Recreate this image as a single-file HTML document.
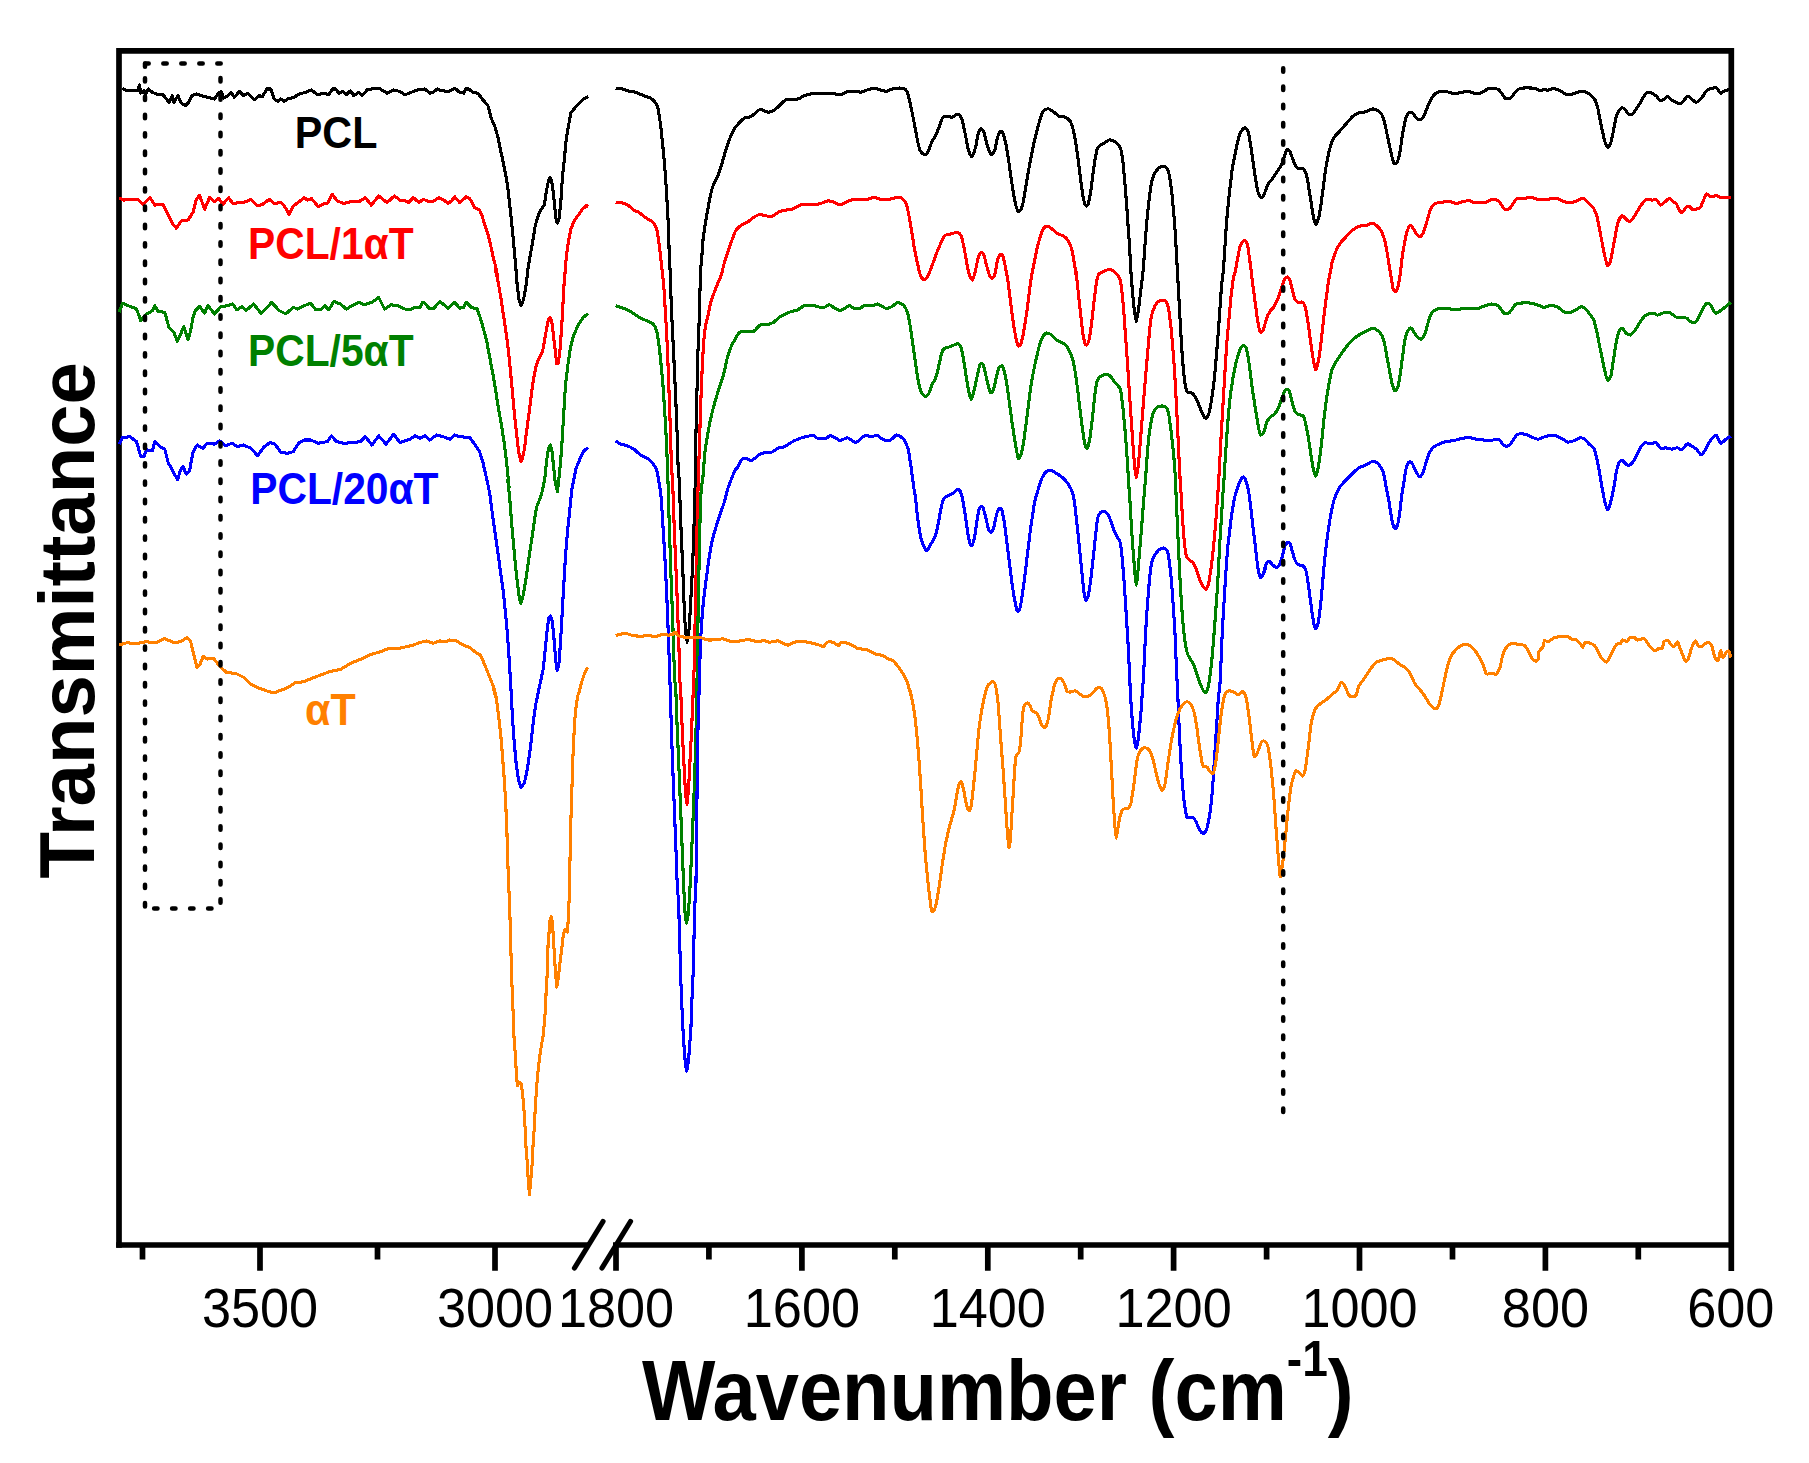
<!DOCTYPE html>
<html><head><meta charset="utf-8"><title>FTIR spectra</title>
<style>html,body{margin:0;padding:0;background:#fff}svg{display:block}</style>
</head><body>
<svg width="1809" height="1463" viewBox="0 0 1809 1463">
<rect width="1809" height="1463" fill="#fff"/>
<g stroke="#000" stroke-width="5.7" fill="none" stroke-linecap="butt">
<path d="M119,1247.85 L119,50.9 L1731.3,50.9 L1731.3,1271" stroke-linejoin="miter"/>
<path d="M116.15,1245 L588.5,1245 M613,1245 L1731.3,1245"/>
<path d="M260.0,1245 V1270.7 M495.0,1245 V1270.7 M142.5,1245 V1259.6 M377.5,1245 V1259.6 M616.0,1245 V1270.7 M801.9,1245 V1270.7 M987.8,1245 V1270.7 M1173.6,1245 V1270.7 M1359.5,1245 V1270.7 M1545.4,1245 V1270.7 M708.9,1245 V1259.6 M894.8,1245 V1259.6 M1080.7,1245 V1259.6 M1266.6,1245 V1259.6 M1452.5,1245 V1259.6 M1638.3,1245 V1259.6"/>
<path d="M574.5,1268 L603,1221.5 M602,1268 L630.5,1221.5" stroke-width="5.2" stroke-linecap="round"/>
</g>
<g fill="none" stroke-width="3.1" stroke-linejoin="round" stroke-linecap="butt" shape-rendering="crispEdges">
<path stroke="#000000" d="M122.5,88.2 L126.6,90.7 L137.4,90.7 L139.5,84.9 L140.7,93.2 L144.0,90.7 L145.7,94.8 L148.2,89.0 L152.3,92.3 L156.5,94.0 L163.1,94.8 L168.9,102.3 L172.2,95.7 L173.9,102.3 L178.0,95.7 L181.3,103.1 L185.5,105.6 L188.8,102.3 L192.1,95.7 L196.3,94.0 L201.2,95.7 L207.9,97.3 L214.5,99.0 L218.6,93.2 L221.1,91.5 L223.6,98.1 L227.8,95.7 L231.1,92.3 L234.4,97.3 L239.4,91.5 L243.5,95.7 L247.7,93.2 L254.3,99.8 L259.3,95.7 L262.6,96.5 L266.7,89.0 L270.9,89.0 L274.2,99.0 L278.3,101.5 L280.8,99.0 L284.2,101.5 L287.5,99.0 L294.1,97.3 L299.1,94.0 L305.7,92.3 L311.5,89.9 L317.3,94.8 L324.0,93.2 L328.9,94.8 L332.2,89.0 L335.6,89.0 L338.9,93.2 L343.0,91.5 L346.3,94.8 L350.5,90.7 L353.8,95.7 L358.8,92.3 L362.1,95.7 L367.1,89.9 L373.7,88.5 L380.3,89.0 L387.0,93.2 L393.6,89.9 L400.1,91.5 L405.0,94.8 L413.3,91.5 L418.2,89.9 L424.9,89.0 L429.9,93.2 L433.2,92.3 L437.3,89.0 L441.5,90.7 L448.9,91.5 L454.7,88.2 L459.7,92.3 L463.8,93.2 L465.5,89.0 L468.8,89.0 L473.0,92.3 L477.9,93.2 L482.9,99.8 L487.9,105.6 L491.2,118.0 L495.4,128.0 L498.5,139.6 L501.5,154.5 L504.0,166.1 L506.0,176.1 L507.8,187.7 L509.5,202.6 L511.1,217.5 L512.8,234.1 L514.3,250.7 L515.8,267.3 L517.3,286.6 L519.1,299.9 L521.1,305.7 L523.5,299.9 L525.9,286.6 L528.2,267.3 L530.5,254.0 L532.8,240.8 L535.2,225.8 L537.6,217.5 L540.1,210.9 L544.3,205.1 L546.4,191.0 L548.4,181.1 L550.1,177.7 L551.7,181.1 L553.4,192.7 L555.0,209.3 L556.3,220.9 L557.5,223.3 L559.2,217.5 L560.9,201.0 L562.5,176.1 L564.3,159.5 L566.2,139.6 L568.4,126.3 L570.8,113.1 L573.3,109.8 L577.4,104.8 L582.4,99.8 L588.2,96.5"/>
<path stroke="#000000" d="M615.6,88.5C616.4,88.6 620.5,88.7 622.2,89.0C623.9,89.3 627.2,90.8 628.9,91.2C630.6,91.6 633.6,91.7 635.5,92.3C637.4,92.9 641.9,95.0 643.8,95.7C645.7,96.4 649.0,97.4 650.4,98.1C651.8,98.8 653.7,100.2 654.6,101.5C655.5,102.8 657.2,105.4 657.9,108.1C658.6,110.8 659.7,118.7 660.3,123.0C660.9,127.3 662.0,137.9 662.5,142.9C663.0,147.9 664.0,157.4 664.4,162.8C664.9,168.2 665.7,180.2 666.1,186.0C666.5,191.8 667.2,203.3 667.5,209.3C667.9,215.3 668.4,227.9 668.6,234.1C668.9,240.3 669.2,254.5 669.3,259.0C669.5,263.5 669.8,264.5 670.1,270.0C670.3,275.5 670.9,294.9 671.2,303.2C671.5,311.5 672.4,328.0 672.8,336.3C673.2,344.6 674.0,361.2 674.4,369.5C674.8,377.8 675.5,394.4 675.9,402.7C676.2,411.0 676.9,427.5 677.2,435.8C677.4,444.1 678.0,463.5 678.2,469.0C678.5,474.5 678.9,474.5 679.2,480.0C679.5,485.5 680.1,504.9 680.4,513.2C680.7,521.5 681.4,538.0 681.8,546.3C682.1,554.6 682.8,571.2 683.2,579.5C683.5,587.8 684.1,606.1 684.5,612.7C684.8,619.3 685.4,628.9 685.8,632.6C686.1,636.3 686.8,642.5 687.2,642.5C687.6,642.5 688.3,636.3 688.7,632.6C689.1,628.9 689.8,618.3 690.1,612.7C690.5,607.1 691.1,594.0 691.4,587.8C691.8,581.6 692.4,570.1 692.7,562.9C693.0,555.6 693.6,538.1 693.9,529.8C694.1,521.5 694.7,508.4 694.9,496.6C695.2,484.9 695.7,448.6 695.9,435.8C696.2,423.0 696.7,404.8 696.9,394.4C697.2,384.0 697.7,361.2 697.9,352.9C698.2,344.6 698.7,334.2 698.9,328.0C699.1,321.8 699.5,310.4 699.7,303.2C699.9,295.9 700.3,275.1 700.5,270.0C700.7,264.9 701.1,266.2 701.5,262.3C701.8,258.4 702.6,244.1 703.1,239.1C703.6,234.1 704.8,226.8 705.5,222.5C706.2,218.2 707.9,208.7 708.7,204.3C709.6,200.0 711.1,191.6 712.4,187.7C713.7,183.8 717.5,176.7 719.0,172.8C720.5,168.9 722.9,159.9 724.0,156.2C725.1,152.5 727.2,145.6 728.1,142.9C729.0,140.2 730.6,136.5 731.4,134.6C732.2,132.7 733.6,129.7 734.8,128.0C735.9,126.3 739.4,122.7 740.6,121.4C741.8,120.2 743.4,118.6 744.7,118.0C746.0,117.4 749.6,117.3 751.3,116.4C753.0,115.5 756.8,111.5 758.0,110.6C759.2,109.7 760.1,109.2 761.3,109.4C762.5,109.6 766.3,112.1 767.9,112.2C769.5,112.3 772.2,111.4 773.7,110.6C775.2,109.8 777.9,106.9 779.5,105.6C781.1,104.2 783.9,100.6 786.2,99.8C788.5,99.0 795.5,99.5 797.8,99.0C800.1,98.5 802.5,96.4 804.4,95.7C806.3,95.0 809.2,94.0 812.7,93.7C816.2,93.5 829.1,93.6 832.6,93.7C836.1,93.8 839.0,94.8 840.9,94.5C842.8,94.2 845.4,91.9 847.5,91.5C849.6,91.1 855.8,91.4 857.5,91.5C859.2,91.6 859.6,92.5 860.8,92.3C862.0,92.1 865.6,90.4 867.4,89.9C869.2,89.4 873.0,88.1 874.9,88.2C876.8,88.3 880.8,90.4 882.3,90.7C883.8,91.0 885.8,91.3 887.3,91.0C888.8,90.7 891.9,88.8 894.0,88.5C896.1,88.2 902.2,88.0 903.9,88.5C905.5,89.0 906.4,90.5 907.2,92.3C908.0,94.1 909.4,100.1 910.1,103.1C910.9,106.1 912.2,113.1 912.9,116.4C913.6,119.7 914.8,126.4 915.5,129.7C916.1,133.0 917.4,140.2 918.0,142.9C918.6,145.6 919.7,149.7 920.5,151.2C921.3,152.7 923.7,154.8 924.6,154.9C925.5,155.0 927.1,153.7 928.0,152.0C928.9,150.3 931.1,143.5 932.1,141.3C933.1,139.1 935.3,136.6 936.2,134.6C937.1,132.6 938.8,127.7 939.6,125.5C940.4,123.3 942.0,118.4 942.9,117.2C943.8,116.0 945.9,116.1 947.0,116.1C948.1,116.1 950.8,117.4 952.0,117.2C953.2,117.0 955.9,114.4 957.0,114.4C958.1,114.4 960.3,115.7 961.1,117.2C961.9,118.7 963.0,123.7 963.6,126.3C964.2,128.9 965.4,135.0 966.0,137.9C966.6,140.8 967.6,147.2 968.3,149.6C969.0,152.0 971.0,157.4 972.0,157.0C972.9,156.6 975.0,149.2 975.8,146.2C976.6,143.2 977.6,135.2 978.3,133.0C979.0,130.8 980.6,128.8 981.3,128.8C982.0,128.8 983.4,131.2 984.1,133.0C984.8,134.8 985.9,140.5 986.6,142.9C987.3,145.3 988.9,150.6 989.6,152.0C990.3,153.4 991.4,154.8 992.1,154.5C992.8,154.2 994.2,151.7 994.9,149.6C995.6,147.5 996.8,140.1 997.4,137.9C998.0,135.7 999.3,132.8 999.9,132.1C1000.5,131.4 1001.6,130.9 1002.3,132.1C1003.0,133.2 1004.5,138.3 1005.3,141.3C1006.0,144.3 1007.4,152.1 1008.0,156.2C1008.7,160.3 1010.0,170.1 1010.6,174.4C1011.2,178.8 1012.5,187.3 1013.1,191.0C1013.7,194.7 1015.0,201.8 1015.6,204.3C1016.2,206.8 1017.5,210.5 1018.1,211.2C1018.7,211.9 1020.0,211.2 1020.6,210.1C1021.2,209.0 1022.5,205.4 1023.1,202.6C1023.7,199.8 1024.9,191.4 1025.6,187.7C1026.2,184.0 1027.5,176.5 1028.1,172.8C1028.8,169.1 1030.2,161.5 1030.9,157.8C1031.6,154.1 1033.2,146.4 1033.9,142.9C1034.7,139.4 1036.4,132.8 1037.2,129.7C1038.0,126.6 1039.7,120.4 1040.5,118.0C1041.3,115.6 1042.8,111.7 1043.8,110.6C1044.8,109.5 1047.7,108.8 1048.8,108.9C1049.9,109.0 1051.6,110.5 1052.9,111.4C1054.2,112.3 1058.0,115.7 1059.6,116.4C1061.2,117.1 1064.1,116.6 1065.4,117.2C1066.7,117.8 1069.3,119.8 1070.3,121.4C1071.3,123.0 1072.5,126.8 1073.2,129.7C1074.0,132.6 1075.3,140.5 1076.0,144.6C1076.7,148.7 1078.0,158.0 1078.6,162.8C1079.2,167.6 1080.5,178.1 1081.1,182.7C1081.7,187.3 1083.0,196.4 1083.6,199.3C1084.2,202.2 1085.5,205.5 1086.1,205.9C1086.7,206.3 1088.0,204.7 1088.6,202.6C1089.2,200.5 1090.4,193.3 1091.0,189.4C1091.6,185.5 1092.8,175.2 1093.4,171.1C1093.9,166.9 1095.0,159.1 1095.6,156.2C1096.1,153.3 1097.1,149.2 1097.7,147.9C1098.3,146.6 1099.4,146.0 1100.2,145.4C1101.0,144.8 1103.2,143.6 1104.3,142.9C1105.4,142.2 1108.0,140.1 1109.3,139.9C1110.5,139.7 1113.2,140.7 1114.3,141.3C1115.4,141.9 1117.6,143.6 1118.4,144.6C1119.2,145.6 1120.3,147.3 1120.9,149.6C1121.5,151.9 1122.5,158.5 1123.0,162.8C1123.5,167.2 1124.5,179.0 1125.0,184.4C1125.4,189.8 1126.3,200.5 1126.7,205.9C1127.1,211.3 1127.9,222.3 1128.2,227.5C1128.6,232.7 1129.3,242.1 1129.6,247.4C1129.9,252.8 1130.5,265.0 1130.8,270.3C1131.2,275.6 1131.9,285.2 1132.3,289.9C1132.7,294.6 1133.6,304.1 1134.1,308.1C1134.6,312.1 1135.7,321.7 1136.3,321.7C1136.9,321.7 1138.0,312.1 1138.6,308.1C1139.2,304.1 1140.3,294.8 1140.9,289.9C1141.5,285.0 1142.7,275.6 1143.3,268.6C1143.9,261.7 1145.1,241.9 1145.8,234.1C1146.4,226.3 1147.7,212.1 1148.4,205.9C1149.1,199.7 1150.4,188.3 1151.2,184.4C1151.9,180.5 1153.2,176.4 1154.1,174.4C1155.0,172.4 1157.2,169.6 1158.2,168.6C1159.2,167.6 1161.4,166.2 1162.4,166.1C1163.4,166.0 1165.7,166.8 1166.5,167.8C1167.3,168.8 1168.5,171.7 1169.1,174.4C1169.7,177.1 1170.9,185.0 1171.4,189.4C1172.0,193.8 1172.9,204.3 1173.4,209.3C1173.8,214.3 1174.6,224.0 1175.0,229.2C1175.4,234.4 1176.0,245.3 1176.3,250.7C1176.6,256.1 1177.2,267.2 1177.4,272.3C1177.7,277.4 1178.3,286.1 1178.6,291.6C1178.9,297.1 1179.5,309.8 1179.9,316.4C1180.3,323.0 1181.1,338.0 1181.5,344.6C1181.9,351.2 1182.9,364.3 1183.4,369.5C1183.8,374.7 1184.9,383.2 1185.4,386.1C1185.9,389.0 1186.9,391.6 1187.6,392.4C1188.3,393.2 1190.5,392.2 1191.4,392.7C1192.3,393.1 1193.9,394.8 1194.7,396.0C1195.5,397.2 1197.2,400.8 1198.0,402.7C1198.8,404.6 1200.5,409.1 1201.3,411.0C1202.1,412.9 1204.0,416.8 1204.7,417.6C1205.4,418.4 1206.5,418.4 1207.1,417.6C1207.7,416.8 1209.0,413.7 1209.6,411.0C1210.2,408.3 1211.5,400.1 1212.1,396.0C1212.7,391.9 1213.9,383.2 1214.4,377.8C1215.0,372.4 1216.1,359.1 1216.6,352.9C1217.1,346.7 1218.1,334.2 1218.6,328.0C1219.0,321.8 1219.9,308.8 1220.3,303.2C1220.7,297.6 1221.4,287.2 1221.8,283.3C1222.2,279.4 1222.8,276.4 1223.2,272.3C1223.6,268.2 1224.3,256.5 1224.7,250.7C1225.1,244.9 1225.9,231.4 1226.3,225.8C1226.7,220.2 1227.6,210.7 1228.1,205.9C1228.5,201.1 1229.5,192.2 1230.0,187.7C1230.6,183.1 1231.6,173.4 1232.2,169.5C1232.8,165.6 1234.0,159.5 1234.7,156.2C1235.3,152.9 1236.7,145.8 1237.4,142.9C1238.1,140.0 1239.4,134.9 1240.3,133.0C1241.2,131.1 1243.6,128.3 1244.5,128.0C1245.4,127.7 1247.1,128.6 1247.8,130.5C1248.5,132.4 1249.7,139.3 1250.3,142.9C1250.9,146.5 1252.1,155.3 1252.8,159.5C1253.4,163.7 1254.5,172.4 1255.1,176.1C1255.7,179.8 1256.8,187.0 1257.3,189.4C1257.8,191.8 1258.7,194.1 1259.2,195.2C1259.8,196.2 1261.0,197.7 1261.6,197.6C1262.2,197.5 1263.5,195.5 1264.1,194.3C1264.7,193.1 1266.0,189.1 1266.6,187.7C1267.2,186.2 1268.3,183.9 1269.1,182.7C1269.9,181.4 1272.2,179.1 1273.2,177.7C1274.2,176.2 1276.4,172.8 1277.4,171.1C1278.4,169.4 1280.6,166.6 1281.5,164.5C1282.4,162.4 1284.2,156.4 1284.9,154.5C1285.6,152.6 1286.7,150.0 1287.3,149.6C1287.9,149.2 1289.2,150.2 1289.8,151.2C1290.4,152.2 1291.7,156.1 1292.3,157.8C1292.9,159.5 1294.1,163.2 1294.8,164.5C1295.5,165.8 1297.1,168.1 1298.1,168.6C1299.1,169.1 1302.1,167.9 1303.1,168.6C1304.1,169.3 1305.7,172.2 1306.4,174.4C1307.1,176.6 1308.0,182.9 1308.5,186.0C1309.0,189.1 1310.1,195.8 1310.7,199.3C1311.2,202.8 1312.4,211.1 1313.0,214.2C1313.6,217.3 1314.8,223.8 1315.5,224.2C1316.2,224.6 1318.1,220.0 1318.8,217.5C1319.5,215.0 1320.4,208.0 1321.0,204.3C1321.5,200.6 1322.6,192.0 1323.2,187.7C1323.8,183.3 1325.0,173.4 1325.6,169.5C1326.2,165.6 1327.4,159.1 1328.0,156.2C1328.6,153.3 1329.8,148.5 1330.5,146.2C1331.2,143.9 1332.7,139.8 1333.8,137.9C1334.9,136.0 1338.0,133.1 1339.6,131.3C1341.1,129.5 1344.5,125.7 1346.2,123.8C1347.9,121.9 1351.1,117.8 1352.8,116.4C1354.5,115.0 1357.8,113.3 1359.5,112.7C1361.2,112.1 1364.4,112.2 1366.1,111.7C1367.8,111.2 1371.2,109.0 1372.7,108.9C1374.2,108.8 1376.5,109.9 1377.7,110.6C1378.9,111.3 1381.1,113.3 1381.9,114.7C1382.7,116.1 1383.8,119.1 1384.4,121.4C1385.0,123.7 1386.2,130.1 1386.8,133.0C1387.5,135.9 1388.7,141.7 1389.3,144.6C1389.9,147.5 1391.2,153.8 1391.8,156.2C1392.4,158.6 1393.6,163.0 1394.3,163.6C1395.0,164.2 1396.9,162.8 1397.6,161.2C1398.3,159.6 1399.5,154.5 1400.1,151.2C1400.7,147.9 1401.9,138.1 1402.5,134.6C1403.1,131.1 1404.2,125.4 1404.7,123.0C1405.2,120.6 1406.0,116.9 1406.7,115.6C1407.4,114.2 1409.4,112.5 1410.1,112.2C1410.8,111.9 1411.8,112.5 1412.5,113.1C1413.2,113.7 1415.1,116.4 1415.9,117.2C1416.7,118.0 1418.4,119.6 1419.2,119.7C1420.0,119.8 1421.7,119.0 1422.5,118.0C1423.3,117.0 1425.0,113.3 1425.8,111.4C1426.6,109.5 1428.2,105.1 1429.1,103.1C1430.0,101.1 1432.3,97.0 1433.3,95.7C1434.3,94.4 1435.9,92.8 1437.4,92.3C1439.0,91.8 1443.8,91.4 1445.7,91.5C1447.6,91.6 1450.4,93.0 1452.3,93.2C1454.2,93.4 1458.7,93.0 1460.6,92.8C1462.5,92.5 1465.6,91.2 1467.3,91.2C1469.0,91.2 1472.5,92.9 1473.9,93.2C1475.4,93.5 1477.7,93.7 1478.9,93.5C1480.2,93.3 1482.7,92.1 1483.9,91.5C1485.1,90.9 1487.0,88.7 1488.8,88.5C1490.6,88.3 1496.5,88.4 1498.5,89.6C1500.6,90.8 1503.5,97.0 1505.0,98.1C1506.5,99.2 1509.6,98.8 1510.8,98.1C1512.0,97.4 1513.8,93.5 1514.9,92.3C1516.0,91.1 1518.3,89.0 1519.9,88.5C1521.5,88.0 1525.4,87.9 1527.4,87.9C1529.4,87.9 1534.2,88.2 1535.7,88.5C1537.2,88.8 1538.8,90.6 1539.8,90.7C1540.8,90.8 1542.9,89.6 1543.9,89.5C1544.9,89.4 1546.8,90.3 1548.1,90.2C1549.3,90.1 1552.5,88.4 1553.9,88.5C1555.4,88.6 1557.9,89.9 1559.7,90.7C1561.5,91.5 1566.1,94.5 1568.0,94.8C1569.9,95.1 1573.1,93.9 1574.6,93.5C1576.0,93.1 1578.3,91.8 1579.6,91.5C1580.8,91.2 1583.2,91.1 1584.6,91.5C1585.9,91.9 1589.1,93.7 1590.4,94.8C1591.8,95.9 1594.5,98.9 1595.4,100.6C1596.3,102.3 1597.2,105.5 1597.8,108.1C1598.5,110.7 1599.7,118.3 1600.3,121.4C1600.9,124.5 1602.2,130.3 1602.8,133.0C1603.4,135.7 1604.7,141.1 1605.3,142.9C1605.9,144.7 1607.1,147.6 1607.8,147.6C1608.5,147.6 1610.2,144.7 1610.8,142.9C1611.4,141.1 1612.4,135.7 1613.0,133.0C1613.5,130.3 1614.6,123.9 1615.2,121.4C1615.7,118.9 1616.6,114.8 1617.4,113.1C1618.2,111.4 1620.9,108.2 1621.9,107.8C1622.9,107.4 1624.4,109.0 1625.2,109.8C1626.0,110.6 1627.6,113.4 1628.5,113.9C1629.4,114.4 1631.7,114.6 1632.7,113.9C1633.7,113.2 1635.8,109.6 1636.8,108.1C1637.8,106.5 1640.1,103.0 1641.0,101.5C1641.9,100.0 1643.4,96.9 1644.3,95.7C1645.2,94.5 1647.0,92.3 1648.4,92.3C1649.9,92.3 1654.5,94.7 1655.9,95.7C1657.4,96.7 1659.1,100.1 1660.0,100.6C1660.9,101.1 1662.4,100.3 1663.3,99.8C1664.2,99.3 1666.5,96.5 1667.5,96.5C1668.5,96.5 1670.2,98.9 1671.6,99.8C1672.9,100.7 1677.0,103.0 1678.3,103.4C1679.5,103.8 1680.5,104.0 1681.6,103.1C1682.7,102.2 1686.3,97.1 1687.4,96.5C1688.5,95.9 1689.7,97.4 1690.7,98.1C1691.7,98.8 1694.7,102.0 1695.7,102.3C1696.7,102.6 1698.1,101.4 1699.0,100.6C1699.9,99.8 1702.3,96.9 1703.2,95.7C1704.1,94.5 1705.5,91.6 1706.5,90.7C1707.5,89.8 1710.2,88.8 1711.4,88.5C1712.6,88.2 1715.2,87.3 1716.4,87.9C1717.6,88.5 1719.6,92.9 1720.6,93.2C1721.6,93.5 1723.5,91.2 1724.7,90.7C1725.9,90.2 1729.8,89.7 1730.5,89.5"/>
<path stroke="#ff0000" d="M119.1,197.6 L123.3,200.1 L129.9,199.3 L137.4,199.3 L143.2,204.3 L149.8,197.6 L154.8,205.1 L163.1,204.3 L168.1,214.2 L173.0,224.2 L176.4,228.3 L181.3,220.9 L188.0,220.0 L192.9,212.6 L196.3,199.3 L199.6,195.2 L204.6,209.3 L209.5,197.6 L214.5,201.8 L218.6,198.5 L222.8,204.3 L228.6,197.6 L232.7,203.4 L241.0,202.6 L246.0,201.8 L251.0,199.3 L257.6,205.9 L262.6,204.3 L269.2,199.3 L274.2,203.4 L280.8,202.6 L284.2,205.9 L289.1,214.2 L293.3,205.9 L299.1,201.8 L304.1,197.6 L307.4,200.1 L311.5,198.5 L318.2,206.8 L322.3,204.3 L327.3,203.4 L332.2,194.3 L337.2,201.0 L343.9,203.4 L350.5,201.8 L358.8,201.8 L365.4,197.6 L371.2,205.1 L378.7,196.0 L387.0,202.6 L394.4,196.0 L400.0,200.1 L403.3,200.1 L408.3,202.6 L413.3,197.6 L419.1,202.6 L423.2,199.3 L429.9,201.8 L434.0,201.0 L439.0,197.6 L443.9,200.1 L448.1,203.4 L451.4,201.0 L454.7,196.8 L459.7,202.6 L466.3,196.8 L469.7,198.5 L474.6,207.6 L479.6,210.1 L482.1,215.9 L484.6,224.2 L487.9,234.1 L490.4,244.1 L492.9,255.7 L495.4,265.6 L497.8,277.2 L495.4,270.0 L498.1,281.6 L500.9,298.2 L503.4,314.8 L505.7,329.7 L507.7,344.6 L509.5,361.2 L511.1,377.8 L512.8,396.0 L514.4,414.3 L516.1,429.2 L517.7,444.1 L519.4,455.7 L521.1,461.5 L522.7,457.4 L524.4,449.1 L526.0,435.8 L527.8,422.6 L529.7,407.6 L531.8,391.1 L534.0,376.1 L536.0,366.2 L538.5,359.6 L542.6,351.3 L544.7,339.7 L546.7,328.0 L548.4,319.8 L550.1,317.3 L551.7,321.4 L553.4,334.7 L555.1,349.6 L556.7,363.7 L558.4,362.9 L560.0,349.6 L561.6,328.0 L563.0,303.2 L564.1,283.3 L565.1,271.9 L566.4,255.7 L568.3,242.4 L570.8,229.2 L574.1,220.9 L578.3,215.1 L582.4,209.3 L586.6,205.6 L588.2,206.3"/>
<path stroke="#ff0000" d="M615.6,202.3C616.4,202.4 620.5,202.6 622.2,203.0C623.9,203.4 627.5,205.0 628.9,205.9C630.3,206.8 632.6,209.3 633.8,210.1C635.0,210.9 637.3,211.3 638.8,212.2C640.2,213.1 643.7,216.3 645.4,217.5C647.1,218.7 650.8,220.4 652.1,221.7C653.5,222.9 655.4,225.3 656.2,227.5C657.0,229.7 657.9,235.6 658.4,239.1C659.0,242.6 660.0,251.7 660.5,255.7C660.9,259.7 661.8,267.3 662.2,271.1C662.6,275.0 663.4,281.6 663.8,286.6C664.2,291.6 665.0,305.3 665.3,311.5C665.7,317.7 666.5,329.1 666.8,336.3C667.2,343.6 667.9,361.2 668.2,369.5C668.5,377.8 669.2,394.4 669.4,402.7C669.7,411.0 670.3,427.5 670.6,435.8C670.8,444.1 671.3,463.5 671.6,469.0C671.8,474.5 672.3,474.5 672.6,480.0C672.8,485.5 673.4,504.9 673.7,513.2C674.0,521.5 674.7,538.0 675.0,546.3C675.4,554.6 676.1,571.2 676.4,579.5C676.8,587.8 677.4,604.4 677.7,612.7C678.0,621.0 678.6,637.5 678.9,645.8C679.1,654.1 679.6,673.5 679.8,679.0C680.0,684.5 680.5,685.5 680.7,690.0C680.9,694.5 681.4,708.7 681.6,714.9C681.9,721.1 682.4,733.6 682.7,739.8C683.0,746.0 683.7,758.4 684.0,764.6C684.3,770.8 685.0,784.5 685.4,789.5C685.8,794.5 686.5,804.4 686.9,804.4C687.3,804.4 688.0,794.5 688.4,789.5C688.8,784.5 689.5,770.8 689.8,764.6C690.1,758.4 690.8,746.0 691.1,739.8C691.4,733.6 692.0,721.1 692.2,714.9C692.5,708.7 693.0,696.6 693.3,690.0C693.6,683.4 694.0,672.1 694.3,662.4C694.5,652.7 695.0,625.1 695.3,612.7C695.5,600.3 696.1,575.3 696.3,562.9C696.6,550.5 697.1,523.6 697.3,513.2C697.6,502.8 698.0,487.6 698.3,480.0C698.5,472.4 699.0,460.0 699.2,452.4C699.5,444.8 700.0,427.6 700.2,419.3C700.5,411.0 701.1,394.4 701.4,386.1C701.8,377.8 702.5,360.2 703.0,352.9C703.4,345.6 704.5,332.8 705.2,328.0C705.8,323.2 707.3,318.3 708.1,314.8C708.9,311.3 710.4,303.4 711.5,299.9C712.6,296.4 715.4,289.5 716.5,286.6C717.6,283.7 720.0,278.3 720.7,276.6C721.4,274.9 721.5,274.4 721.9,272.8C722.3,271.2 723.4,266.1 724.0,264.0C724.6,261.9 725.7,258.2 726.5,255.7C727.3,253.2 729.5,247.2 730.6,244.1C731.7,241.0 734.2,233.2 735.6,230.8C737.0,228.4 739.9,226.1 741.4,225.0C742.9,223.9 746.3,222.7 748.0,221.7C749.7,220.7 753.2,217.6 754.7,216.7C756.2,215.8 758.0,214.7 759.6,214.6C761.2,214.5 766.2,216.0 767.9,216.2C769.6,216.4 771.4,216.5 772.9,215.9C774.4,215.3 777.8,212.4 779.5,211.7C781.2,211.0 784.5,210.4 786.2,210.1C787.9,209.8 790.8,209.6 792.8,208.9C794.8,208.2 798.8,205.2 801.9,204.6C805.0,204.0 814.5,204.8 817.7,204.3C820.9,203.9 825.7,201.3 827.6,201.0C829.5,200.7 831.1,201.4 832.6,201.8C834.1,202.2 837.8,204.4 839.2,204.6C840.7,204.8 842.8,204.0 844.2,203.4C845.7,202.8 847.9,200.6 850.8,200.1C853.7,199.6 864.5,199.7 867.4,199.3C870.3,199.0 872.4,197.3 874.1,197.3C875.8,197.3 878.8,199.1 880.7,199.3C882.6,199.6 886.9,199.6 889.0,199.3C891.1,199.1 895.6,197.4 897.3,197.3C898.9,197.2 901.1,197.6 902.2,198.5C903.3,199.4 905.5,201.9 906.4,204.3C907.3,206.7 908.6,213.8 909.3,217.5C910.1,221.2 911.4,229.9 912.1,234.1C912.8,238.2 914.1,247.0 914.8,250.7C915.5,254.4 916.8,260.9 917.6,264.0C918.3,267.1 919.7,273.6 920.5,275.6C921.3,277.6 923.2,279.7 924.1,279.7C925.0,279.7 927.0,277.4 928.0,275.6C929.0,273.8 931.1,268.3 932.1,265.6C933.1,262.9 935.2,256.7 936.2,254.0C937.2,251.3 939.4,246.4 940.4,244.1C941.4,241.8 943.3,237.1 944.5,235.8C945.7,234.6 948.7,234.5 950.3,234.1C951.9,233.7 955.6,232.3 957.0,232.5C958.4,232.7 960.3,234.2 961.1,235.8C961.9,237.5 963.0,242.8 963.6,245.7C964.2,248.6 965.5,255.7 966.1,259.0C966.7,262.3 967.8,269.7 968.6,272.3C969.4,274.9 971.6,280.6 972.5,280.1C973.4,279.7 975.1,271.9 975.8,269.0C976.5,266.1 977.6,259.4 978.3,257.3C979.0,255.2 980.6,252.6 981.3,252.4C982.0,252.2 983.4,254.0 984.1,255.7C984.8,257.3 985.9,263.1 986.6,265.6C987.3,268.1 988.9,274.0 989.6,275.6C990.3,277.2 991.4,278.3 992.1,278.1C992.8,277.9 994.2,276.1 994.9,273.9C995.6,271.7 996.8,263.1 997.4,260.7C998.0,258.3 999.3,255.6 999.9,254.9C1000.5,254.2 1001.7,254.0 1002.3,254.9C1002.9,255.8 1003.9,260.1 1004.4,262.3C1005.0,264.5 1006.0,270.0 1006.5,272.8C1007.0,275.6 1008.0,281.1 1008.5,284.9C1009.0,288.7 1010.1,298.6 1010.7,303.2C1011.3,307.8 1012.5,317.3 1013.1,321.4C1013.7,325.5 1015.0,333.3 1015.6,336.3C1016.2,339.3 1017.5,344.5 1018.1,345.5C1018.7,346.5 1020.0,346.0 1020.6,344.6C1021.2,343.2 1022.5,337.8 1023.1,334.7C1023.7,331.6 1024.9,323.7 1025.6,319.8C1026.2,315.9 1027.4,307.6 1027.9,303.2C1028.5,298.8 1029.6,288.8 1030.2,284.9C1030.7,281.0 1031.7,275.0 1032.3,271.9C1032.8,268.9 1034.0,263.8 1034.6,260.7C1035.2,257.6 1036.6,250.5 1037.3,247.4C1038.1,244.3 1039.7,238.2 1040.5,235.8C1041.3,233.4 1043.0,229.5 1043.8,228.3C1044.6,227.1 1046.2,226.2 1047.1,226.2C1048.0,226.2 1050.0,227.4 1051.3,228.3C1052.5,229.2 1055.6,232.4 1057.1,233.3C1058.5,234.2 1061.7,235.1 1062.9,235.8C1064.1,236.5 1066.0,237.7 1067.0,239.1C1068.0,240.5 1070.4,245.1 1071.2,247.4C1072.0,249.7 1072.8,254.6 1073.3,257.3C1073.8,260.0 1074.7,266.1 1075.2,269.0C1075.7,271.9 1076.9,280.5 1077.0,280.6C1077.1,280.7 1075.7,268.8 1075.8,270.0C1075.9,271.2 1077.5,284.7 1078.0,289.9C1078.6,295.1 1079.7,306.3 1080.3,311.5C1080.9,316.7 1082.0,327.5 1082.6,331.4C1083.1,335.3 1084.3,341.3 1084.8,343.0C1085.3,344.7 1086.4,345.4 1086.9,345.0C1087.4,344.6 1088.5,342.0 1089.1,339.7C1089.6,337.4 1090.7,330.5 1091.2,326.4C1091.8,322.2 1092.9,311.3 1093.4,306.5C1094.0,301.7 1095.1,291.9 1095.6,288.2C1096.1,284.5 1097.1,278.5 1097.7,276.6C1098.3,274.7 1098.7,273.9 1100.2,273.0C1101.7,272.1 1107.6,269.4 1109.7,269.5C1111.8,269.7 1115.5,272.8 1116.8,274.1C1118.1,275.4 1119.4,277.4 1120.1,280.0C1120.8,282.6 1121.8,289.9 1122.3,294.9C1122.9,299.9 1123.9,313.6 1124.4,319.8C1124.8,326.0 1125.7,338.4 1126.2,344.6C1126.6,350.8 1127.5,363.3 1127.9,369.5C1128.3,375.7 1129.1,388.2 1129.5,394.4C1130.0,400.6 1130.8,413.1 1131.2,419.3C1131.6,425.5 1132.5,438.3 1132.9,444.1C1133.3,449.9 1134.2,461.4 1134.6,465.7C1135.0,469.9 1135.8,478.1 1136.3,478.1C1136.8,478.1 1137.7,469.9 1138.2,465.7C1138.7,461.4 1139.7,449.9 1140.1,444.1C1140.6,438.3 1141.6,425.5 1142.1,419.3C1142.6,413.1 1143.6,400.6 1144.1,394.4C1144.6,388.2 1145.7,375.7 1146.2,369.5C1146.7,363.3 1147.8,350.8 1148.4,344.6C1148.9,338.4 1150.1,324.2 1150.8,319.8C1151.4,315.4 1152.5,312.0 1153.3,309.8C1154.1,307.6 1156.3,303.5 1157.4,302.3C1158.5,301.1 1161.3,300.2 1162.4,300.2C1163.5,300.2 1165.7,300.9 1166.5,302.3C1167.3,303.7 1168.4,307.9 1169.0,311.5C1169.6,315.1 1170.8,325.8 1171.4,331.4C1171.9,337.0 1173.0,349.4 1173.5,356.2C1174.0,363.0 1175.0,378.2 1175.4,386.1C1175.9,394.0 1176.8,411.0 1177.2,419.3C1177.6,427.6 1178.4,445.1 1178.7,452.4C1179.1,459.6 1179.7,471.8 1180.0,477.3C1180.3,482.8 1180.9,491.1 1181.3,496.6C1181.6,502.1 1182.3,515.7 1182.7,521.5C1183.1,527.3 1184.0,538.6 1184.4,543.0C1184.9,547.4 1185.7,554.1 1186.4,556.3C1187.1,558.5 1188.9,559.6 1189.7,560.4C1190.5,561.2 1192.3,561.8 1193.1,562.9C1193.9,564.0 1195.6,567.5 1196.4,569.6C1197.2,571.7 1198.9,577.4 1199.7,579.5C1200.5,581.6 1202.2,584.9 1203.0,586.1C1203.8,587.3 1205.6,589.5 1206.3,589.1C1207.0,588.7 1208.1,585.4 1208.7,582.8C1209.3,580.1 1210.5,572.0 1211.1,567.9C1211.6,563.8 1212.7,554.5 1213.2,549.7C1213.7,544.9 1214.7,535.4 1215.1,529.8C1215.6,524.2 1216.5,511.3 1217.0,504.9C1217.5,498.5 1218.4,486.2 1218.8,478.6C1219.3,471.0 1220.2,452.6 1220.7,444.1C1221.1,435.6 1222.1,419.3 1222.6,411.0C1223.1,402.7 1224.1,386.1 1224.6,377.8C1225.1,369.5 1226.2,351.9 1226.7,344.6C1227.2,337.4 1228.4,326.0 1228.9,319.8C1229.5,313.6 1230.6,300.1 1231.2,294.9C1231.8,289.7 1232.9,281.4 1233.4,278.3C1234.0,275.2 1235.0,272.6 1235.6,270.0C1236.1,267.4 1237.2,260.3 1237.8,257.3C1238.4,254.3 1239.5,247.8 1240.3,245.7C1241.1,243.6 1243.6,240.6 1244.5,240.4C1245.4,240.2 1246.7,242.2 1247.3,244.1C1247.9,246.0 1248.7,252.5 1249.1,255.7C1249.6,258.9 1250.5,265.6 1251.0,269.5C1251.5,273.4 1252.5,282.4 1253.0,286.6C1253.6,290.8 1254.7,299.1 1255.3,303.2C1255.8,307.3 1257.0,316.3 1257.6,319.8C1258.2,323.3 1259.2,330.1 1259.9,331.4C1260.6,332.7 1262.3,332.0 1263.2,330.4C1264.0,328.7 1265.8,320.5 1266.6,318.1C1267.4,315.7 1269.0,312.9 1269.9,311.5C1270.8,310.1 1273.1,308.2 1274.1,306.5C1275.1,304.8 1277.3,300.5 1278.2,298.2C1279.1,295.9 1280.7,290.6 1281.5,288.2C1282.3,285.8 1283.8,280.5 1284.5,279.1C1285.2,277.7 1286.6,276.9 1287.3,277.0C1288.0,277.1 1289.2,278.4 1289.8,280.0C1290.4,281.6 1291.7,287.5 1292.3,289.9C1292.9,292.3 1294.1,297.4 1294.8,299.0C1295.5,300.6 1297.1,301.9 1298.1,302.3C1299.1,302.7 1302.1,301.4 1303.1,302.3C1304.1,303.2 1305.1,307.0 1305.8,309.8C1306.4,312.6 1307.7,320.8 1308.3,324.7C1308.9,328.6 1310.0,337.2 1310.6,341.3C1311.2,345.4 1312.4,354.4 1313.0,357.9C1313.6,361.4 1314.9,368.9 1315.5,369.5C1316.1,370.1 1317.4,365.6 1318.0,362.9C1318.6,360.2 1319.8,352.3 1320.4,347.9C1321.0,343.5 1322.1,332.8 1322.6,328.0C1323.1,323.2 1324.1,313.9 1324.7,309.8C1325.2,305.7 1326.2,298.4 1326.6,294.9C1327.1,291.4 1328.1,284.5 1328.5,281.6C1329.0,278.7 1329.9,274.4 1330.4,271.9C1330.8,269.5 1331.5,264.7 1332.1,262.3C1332.7,259.9 1334.5,254.7 1335.4,252.4C1336.3,250.1 1338.2,246.1 1339.6,244.1C1340.9,242.1 1344.5,238.4 1346.2,236.6C1347.9,234.8 1351.1,231.3 1352.8,230.0C1354.5,228.7 1357.8,226.9 1359.5,226.3C1361.2,225.7 1364.5,225.9 1366.1,225.5C1367.6,225.1 1370.6,223.3 1371.9,223.3C1373.2,223.3 1375.8,224.9 1376.9,225.8C1378.0,226.7 1380.1,229.1 1381.0,230.8C1381.9,232.5 1383.7,236.6 1384.4,239.1C1385.1,241.6 1386.2,247.6 1386.8,250.7C1387.3,253.8 1388.5,260.7 1389.0,264.0C1389.5,267.3 1390.6,273.9 1391.1,277.0C1391.6,280.0 1392.5,286.4 1393.0,288.2C1393.5,290.0 1394.5,291.6 1395.1,291.6C1395.7,291.6 1397.0,290.2 1397.6,288.2C1398.2,286.2 1399.4,279.4 1400.0,275.3C1400.6,271.2 1401.9,259.8 1402.4,255.7C1403.0,251.6 1404.1,245.3 1404.7,242.4C1405.2,239.5 1406.0,234.6 1406.7,232.5C1407.4,230.4 1409.4,226.1 1410.1,225.5C1410.8,224.9 1411.7,226.4 1412.5,227.5C1413.3,228.6 1415.8,233.0 1416.7,234.1C1417.6,235.2 1419.2,236.8 1420.0,236.6C1420.8,236.4 1422.5,234.3 1423.3,232.5C1424.1,230.7 1425.8,225.2 1426.6,222.5C1427.4,219.8 1429.1,213.2 1430.0,210.9C1430.9,208.6 1432.8,205.4 1434.1,204.3C1435.4,203.2 1438.6,202.6 1440.7,202.3C1442.8,202.0 1448.7,201.7 1450.7,201.8C1452.7,201.9 1455.0,203.4 1456.5,203.4C1458.0,203.4 1460.8,202.2 1462.3,201.8C1463.8,201.5 1467.5,200.5 1468.9,200.6C1470.4,200.7 1471.8,202.1 1473.9,202.3C1476.0,202.5 1483.2,202.7 1485.5,202.3C1487.8,201.9 1490.5,199.5 1492.1,199.3C1493.7,199.1 1497.0,199.8 1498.5,200.9C1500.0,202.1 1502.8,207.9 1504.1,208.9C1505.4,209.9 1507.9,209.6 1509.1,208.9C1510.2,208.2 1512.4,204.6 1513.3,203.4C1514.2,202.2 1514.9,199.7 1516.6,199.0C1518.2,198.3 1524.8,198.2 1526.5,198.0C1528.2,197.8 1529.1,197.3 1529.9,197.3C1530.7,197.3 1532.2,197.8 1533.2,198.0C1534.2,198.2 1536.2,199.1 1538.1,199.3C1540.0,199.5 1546.2,199.5 1548.1,199.3C1550.0,199.2 1552.0,198.2 1553.1,198.1C1554.2,198.0 1556.0,198.1 1557.2,198.5C1558.4,198.9 1561.5,200.8 1563.0,201.3C1564.5,201.8 1567.3,202.5 1568.8,202.6C1570.2,202.7 1573.0,202.3 1574.6,201.8C1576.2,201.3 1580.0,198.8 1581.3,198.5C1582.5,198.2 1583.6,198.3 1584.6,199.0C1585.6,199.7 1588.5,203.1 1589.6,204.3C1590.7,205.5 1592.8,206.9 1593.7,208.4C1594.6,209.9 1596.3,214.1 1597.0,216.7C1597.7,219.3 1598.9,226.0 1599.5,229.2C1600.1,232.4 1601.4,239.1 1602.1,242.4C1602.7,245.7 1604.0,252.8 1604.7,255.7C1605.4,258.6 1606.8,264.9 1607.5,265.6C1608.2,266.3 1609.6,263.6 1610.3,261.5C1611.0,259.4 1612.2,252.3 1612.8,249.1C1613.4,245.9 1614.6,239.0 1615.3,235.8C1615.9,232.6 1616.9,225.8 1617.7,223.3C1618.5,220.8 1620.9,216.5 1621.9,215.9C1622.9,215.3 1625.1,218.2 1626.0,218.9C1626.9,219.6 1628.5,221.9 1629.4,221.7C1630.3,221.5 1632.5,218.8 1633.5,217.5C1634.5,216.2 1636.6,212.6 1637.6,210.9C1638.6,209.2 1640.8,205.7 1641.8,204.3C1642.8,202.9 1644.6,200.1 1645.9,199.6C1647.2,199.1 1651.3,200.1 1652.6,200.1C1653.8,200.1 1654.9,198.7 1655.9,199.3C1656.9,199.9 1659.8,204.8 1660.9,205.1C1662.0,205.4 1664.0,202.6 1665.0,201.8C1666.0,201.0 1668.2,198.5 1669.2,198.5C1670.2,198.5 1672.4,201.1 1673.3,201.8C1674.2,202.5 1675.8,203.2 1676.6,204.3C1677.4,205.4 1679.2,209.9 1679.9,210.9C1680.6,211.9 1681.6,212.7 1682.4,212.2C1683.2,211.7 1685.7,207.5 1686.6,206.8C1687.5,206.1 1689.2,206.5 1689.9,206.8C1690.6,207.1 1691.5,209.0 1692.4,209.3C1693.3,209.6 1696.3,209.2 1697.3,208.9C1698.3,208.6 1700.0,207.8 1700.7,206.8C1701.4,205.8 1702.5,202.6 1703.2,201.0C1703.9,199.4 1705.6,194.5 1706.5,194.0C1707.4,193.5 1709.4,196.6 1710.6,196.8C1711.8,197.0 1715.2,195.6 1716.4,195.7C1717.7,195.8 1718.7,197.1 1720.6,197.3C1722.5,197.5 1730.0,197.3 1731.3,197.3"/>
<path stroke="#008000" d="M119.1,312.3 L122.5,303.2 L128.3,305.7 L136.6,309.0 L140.7,320.6 L145.7,314.8 L152.3,310.6 L154.8,305.7 L158.1,311.5 L164.8,312.3 L168.9,327.2 L173.9,332.2 L177.2,341.3 L180.5,334.7 L183.8,326.4 L188.0,339.7 L190.5,331.4 L192.9,318.1 L195.4,310.6 L199.6,306.5 L204.6,313.1 L207.9,305.7 L214.5,313.9 L221.1,306.5 L227.8,305.7 L232.7,304.0 L236.9,309.8 L241.9,306.5 L246.0,310.6 L253.5,304.0 L260.9,313.1 L265.9,309.0 L271.7,302.3 L279.2,310.6 L285.8,313.9 L293.3,307.3 L297.4,309.0 L304.1,305.7 L310.7,303.2 L315.7,309.8 L320.6,309.8 L324.8,305.7 L328.9,309.8 L333.9,301.5 L340.5,304.0 L346.3,309.0 L353.8,304.8 L358.8,302.3 L363.8,304.8 L372.0,302.3 L378.7,297.4 L384.5,309.0 L391.1,304.8 L398.4,305.9 L405.0,309.0 L410.0,309.8 L414.9,307.3 L419.9,307.3 L422.4,302.3 L424.9,303.2 L429.0,308.1 L433.2,309.0 L439.8,301.5 L448.1,308.1 L454.7,302.3 L459.7,308.1 L463.8,307.3 L466.3,302.3 L471.3,307.3 L477.1,309.0 L480.4,318.1 L483.7,329.7 L486.7,341.3 L489.5,356.2 L492.0,369.5 L494.5,382.8 L497.0,399.4 L499.5,414.3 L501.9,427.5 L504.1,442.5 L506.0,457.4 L507.6,472.3 L509.1,487.2 L507.8,480.0 L509.6,496.6 L511.5,521.5 L513.4,543.0 L515.2,562.9 L517.0,579.5 L518.8,594.4 L520.7,603.5 L523.0,596.1 L525.4,582.8 L527.7,566.2 L530.1,549.7 L532.5,534.7 L534.7,518.1 L536.8,506.5 L540.1,498.2 L542.6,490.0 L544.8,478.6 L546.6,460.7 L548.4,449.1 L550.1,445.0 L551.8,449.1 L553.5,465.7 L555.4,483.9 L557.5,491.4 L559.6,472.3 L561.6,449.1 L563.4,419.3 L565.4,386.1 L567.7,366.2 L570.4,347.9 L573.3,336.3 L578.3,324.7 L583.3,317.3 L588.2,313.4"/>
<path stroke="#008000" d="M615.6,305.7C616.4,306.0 620.5,307.2 622.2,307.8C623.9,308.4 627.2,309.7 628.9,310.6C630.6,311.5 633.9,313.8 635.5,314.8C637.1,315.8 640.4,318.1 642.1,318.9C643.8,319.7 647.3,320.7 648.8,321.4C650.2,322.1 652.7,323.4 653.7,324.7C654.7,325.9 656.1,328.9 656.7,331.4C657.3,333.9 658.4,340.7 658.9,344.6C659.4,348.5 660.5,358.1 660.9,362.9C661.4,367.7 662.3,377.4 662.8,382.8C663.2,388.2 664.0,400.4 664.3,406.0C664.7,411.6 665.4,421.7 665.7,427.5C666.0,433.3 666.6,446.0 666.9,452.4C667.1,458.8 667.6,471.0 667.9,478.6C668.2,486.2 668.7,504.7 668.9,513.2C669.2,521.7 669.7,538.0 670.0,546.3C670.3,554.6 670.9,571.2 671.1,579.5C671.4,587.8 672.1,604.4 672.4,612.7C672.7,621.0 673.3,637.5 673.5,645.8C673.8,654.1 674.4,673.5 674.7,679.0C674.9,684.5 675.5,684.5 675.8,690.0C676.1,695.5 676.7,714.9 677.0,723.2C677.4,731.5 678.1,748.0 678.4,756.3C678.8,764.6 679.5,781.2 679.8,789.5C680.2,797.8 680.8,814.4 681.2,822.7C681.5,831.0 682.1,847.5 682.5,855.8C682.8,864.1 683.5,881.8 683.8,889.0C684.2,896.2 684.8,909.3 685.1,913.6C685.5,917.9 686.0,923.2 686.4,923.2C686.8,923.2 687.8,917.9 688.2,913.6C688.7,909.3 689.5,896.2 689.9,889.0C690.3,881.8 691.1,864.1 691.5,855.8C691.8,847.5 692.5,831.0 692.9,822.7C693.2,814.4 693.9,797.8 694.2,789.5C694.5,781.2 695.0,764.6 695.3,756.3C695.5,748.0 696.0,731.5 696.2,723.2C696.4,714.9 696.7,697.6 696.8,690.0C697.0,682.4 697.2,672.1 697.4,662.4C697.6,652.7 697.9,625.1 698.1,612.7C698.4,600.3 698.9,575.3 699.1,562.9C699.4,550.5 699.9,522.5 700.2,513.2C700.5,503.9 701.0,492.6 701.3,488.3C701.7,484.0 702.3,483.1 702.8,478.6C703.2,474.2 704.3,458.2 704.9,452.4C705.6,446.6 707.1,437.3 708.0,432.5C708.8,427.7 710.7,418.4 711.7,414.3C712.6,410.2 714.7,402.9 715.7,399.4C716.7,395.9 718.8,389.4 719.8,386.1C720.8,382.8 723.1,376.3 724.0,372.8C724.9,369.3 726.5,361.0 727.3,357.9C728.1,354.8 729.7,350.2 730.6,347.9C731.5,345.6 733.5,341.7 734.8,339.7C736.0,337.7 738.3,332.7 740.6,331.7C742.9,330.7 750.5,332.6 753.0,331.7C755.5,330.8 758.6,325.6 760.5,324.7C762.4,323.8 766.2,324.7 767.9,324.4C769.5,324.1 772.4,323.0 773.7,322.2C775.1,321.4 777.1,318.9 778.7,317.8C780.3,316.7 784.4,314.2 786.2,313.4C788.0,312.6 791.3,311.6 792.8,311.1C794.2,310.7 796.3,310.5 797.8,309.8C799.2,309.1 802.5,306.3 804.4,305.7C806.3,305.1 811.0,305.1 812.7,305.2C814.4,305.3 816.2,306.5 817.7,306.8C819.2,307.1 822.8,307.6 824.3,307.3C825.8,307.1 828.2,304.8 829.3,304.8C830.4,304.8 832.4,306.7 833.4,307.3C834.4,307.9 836.5,309.5 837.6,309.8C838.7,310.1 841.0,310.3 842.5,309.8C844.0,309.3 847.7,305.9 849.2,305.7C850.7,305.5 852.9,308.1 854.2,308.5C855.6,308.9 858.8,308.9 860.0,308.5C861.2,308.1 862.6,306.1 864.1,305.7C865.6,305.3 870.7,305.9 872.4,305.7C874.1,305.5 876.2,303.9 877.4,304.0C878.6,304.1 881.2,305.9 882.3,306.5C883.4,307.1 885.4,308.5 886.5,308.5C887.6,308.5 890.1,307.5 891.5,306.8C892.9,306.1 895.8,303.1 897.3,302.8C898.8,302.6 901.9,303.7 903.1,304.8C904.3,305.9 906.4,309.2 907.2,311.5C908.0,313.8 909.1,319.6 909.7,323.1C910.3,326.6 911.6,335.4 912.2,339.7C912.8,344.0 914.1,353.3 914.8,357.9C915.4,362.4 916.7,372.2 917.4,376.1C918.1,380.0 919.5,387.1 920.2,389.4C920.9,391.7 922.3,393.8 923.0,394.7C923.7,395.6 924.8,396.5 925.5,396.4C926.2,396.2 928.0,395.0 928.8,393.5C929.6,392.0 931.2,386.4 932.1,384.4C933.0,382.4 934.9,380.1 935.7,377.8C936.5,375.5 938.0,369.3 938.7,366.2C939.5,363.1 941.0,355.1 941.7,352.9C942.4,350.7 942.9,349.6 944.0,348.8C945.1,348.0 948.6,347.2 950.3,346.6C952.0,346.0 956.4,343.6 957.8,343.8C959.1,344.0 960.4,345.9 961.1,347.9C961.8,349.9 963.0,356.1 963.6,359.6C964.2,363.1 965.5,372.2 966.1,376.1C966.8,380.0 968.1,388.2 968.7,391.1C969.4,394.0 970.7,399.6 971.4,399.4C972.0,399.2 973.6,392.3 974.3,389.4C975.0,386.5 976.5,379.2 977.2,376.1C977.9,373.0 979.3,365.9 980.0,364.5C980.7,363.1 982.2,363.5 982.9,364.5C983.6,365.5 984.7,370.3 985.3,372.8C985.9,375.3 987.2,381.9 987.9,384.4C988.6,386.9 990.0,392.1 990.7,392.7C991.4,393.3 992.8,391.3 993.5,389.4C994.2,387.5 995.5,380.5 996.2,377.8C996.9,375.1 998.2,369.2 999.0,367.8C999.8,366.4 1001.5,365.4 1002.3,366.2C1003.1,367.0 1004.4,371.4 1005.1,374.5C1005.8,377.6 1007.1,386.5 1007.8,391.1C1008.5,395.7 1009.8,406.2 1010.5,411.0C1011.1,415.8 1012.4,424.8 1013.1,429.2C1013.8,433.6 1015.1,442.1 1015.7,445.8C1016.4,449.5 1017.7,457.7 1018.4,458.7C1019.1,459.7 1020.5,456.1 1021.1,454.1C1021.7,452.1 1022.9,446.2 1023.5,442.5C1024.1,438.8 1025.4,429.0 1026.0,424.2C1026.6,419.4 1027.9,409.3 1028.5,404.3C1029.2,399.3 1030.5,388.8 1031.1,384.4C1031.8,380.0 1033.2,373.0 1033.9,369.5C1034.6,366.0 1036.0,359.3 1036.8,356.2C1037.5,353.1 1038.9,347.1 1039.7,344.6C1040.5,342.1 1042.1,337.8 1043.0,336.3C1043.9,334.9 1045.6,333.2 1046.6,333.0C1047.6,332.8 1050.1,333.9 1051.3,334.7C1052.5,335.5 1055.1,338.8 1056.2,339.7C1057.3,340.6 1059.2,341.5 1060.4,342.1C1061.6,342.7 1064.3,343.5 1065.4,344.6C1066.5,345.8 1068.6,349.4 1069.5,351.3C1070.4,353.2 1072.1,356.9 1072.8,359.6C1073.5,362.3 1074.7,368.9 1075.3,372.8C1075.9,376.7 1077.2,386.3 1077.8,391.1C1078.4,395.9 1079.6,406.2 1080.2,411.0C1080.8,415.8 1082.0,425.1 1082.6,429.2C1083.1,433.3 1084.2,441.7 1084.8,444.1C1085.3,446.5 1086.4,448.5 1086.9,448.3C1087.4,448.1 1088.6,445.1 1089.1,442.5C1089.7,439.9 1090.8,431.9 1091.3,427.5C1091.9,423.1 1093.0,412.4 1093.5,407.6C1094.0,402.8 1095.1,392.9 1095.6,389.4C1096.1,385.9 1097.0,381.2 1097.7,379.5C1098.4,377.8 1099.9,376.8 1101.0,376.1C1102.1,375.4 1105.5,374.0 1106.8,374.1C1108.0,374.2 1110.0,375.9 1111.0,377.0C1112.0,378.1 1114.0,381.4 1115.1,382.8C1116.2,384.2 1119.2,386.3 1120.1,388.6C1121.0,390.9 1121.6,397.2 1122.1,401.0C1122.6,404.8 1123.6,414.5 1124.0,419.3C1124.5,424.1 1125.4,434.0 1125.8,439.2C1126.2,444.4 1126.9,455.3 1127.3,460.7C1127.7,466.1 1128.3,477.2 1128.6,482.3C1129.0,487.4 1129.6,495.7 1130.0,501.6C1130.3,507.5 1131.2,522.5 1131.6,529.8C1132.1,537.0 1133.2,552.7 1133.8,559.6C1134.4,566.5 1135.7,585.3 1136.3,585.3C1136.9,585.3 1138.3,566.5 1138.9,559.6C1139.6,552.7 1140.8,537.0 1141.4,529.8C1142.0,522.5 1143.1,508.2 1143.6,501.6C1144.1,495.0 1145.1,483.5 1145.6,477.3C1146.1,471.1 1147.0,458.0 1147.4,452.4C1147.9,446.8 1148.9,436.6 1149.4,432.5C1149.9,428.4 1151.0,422.0 1151.6,419.3C1152.2,416.6 1153.3,412.6 1154.1,411.0C1154.9,409.4 1157.2,407.4 1158.2,406.8C1159.2,406.2 1161.4,405.9 1162.4,406.0C1163.4,406.1 1165.7,406.4 1166.5,407.6C1167.3,408.8 1168.4,412.8 1169.0,415.9C1169.5,419.0 1170.7,428.4 1171.2,432.5C1171.7,436.6 1172.6,444.5 1173.1,449.1C1173.5,453.7 1174.4,462.0 1174.8,469.0C1175.3,476.0 1176.1,495.2 1176.5,504.9C1177.0,514.6 1177.9,535.9 1178.4,546.3C1178.9,556.7 1179.9,578.5 1180.5,587.8C1181.0,597.1 1182.2,614.2 1182.8,621.0C1183.3,627.8 1184.6,638.4 1185.2,642.5C1185.8,646.6 1186.8,651.8 1187.6,654.1C1188.4,656.4 1190.5,659.1 1191.4,660.8C1192.3,662.5 1193.9,665.3 1194.7,667.4C1195.5,669.5 1197.2,674.9 1198.0,677.3C1198.8,679.7 1200.4,684.6 1201.3,686.5C1202.2,688.4 1204.4,692.5 1205.2,692.6C1206.0,692.7 1207.4,689.6 1208.0,687.3C1208.6,685.0 1209.7,678.1 1210.3,674.0C1210.8,669.9 1211.9,659.7 1212.4,654.1C1212.9,648.5 1213.9,635.5 1214.4,629.3C1214.9,623.1 1215.8,610.6 1216.2,604.4C1216.7,598.2 1217.5,586.8 1217.9,579.5C1218.3,572.2 1219.2,553.5 1219.6,546.3C1220.0,539.0 1220.8,527.7 1221.2,521.5C1221.6,515.3 1222.3,502.1 1222.7,496.6C1223.1,491.1 1223.8,482.8 1224.1,477.3C1224.5,471.8 1225.2,458.6 1225.7,452.4C1226.1,446.2 1226.9,433.7 1227.4,427.5C1227.9,421.3 1229.0,408.1 1229.6,402.7C1230.1,397.3 1231.3,388.5 1232.0,384.4C1232.6,380.2 1233.9,372.8 1234.6,369.5C1235.2,366.2 1236.5,360.6 1237.3,357.9C1238.1,355.2 1239.8,349.4 1240.6,347.9C1241.4,346.3 1243.2,345.3 1244.0,345.5C1244.8,345.7 1246.0,347.4 1246.6,349.6C1247.2,351.8 1248.4,358.8 1249.0,362.9C1249.7,367.0 1250.9,378.0 1251.5,382.8C1252.2,387.6 1253.5,396.4 1254.2,401.0C1254.9,405.6 1256.3,415.1 1257.1,419.3C1257.8,423.5 1259.4,433.1 1260.2,434.6C1261.1,436.2 1263.3,433.2 1264.1,431.7C1264.9,430.2 1265.9,424.4 1266.6,422.6C1267.3,420.8 1269.0,418.6 1269.9,417.6C1270.8,416.6 1273.1,415.4 1274.1,414.3C1275.1,413.2 1277.3,410.4 1278.2,408.5C1279.1,406.6 1280.7,401.6 1281.5,399.4C1282.3,397.2 1283.8,392.4 1284.5,391.1C1285.2,389.8 1286.6,388.9 1287.3,389.1C1288.0,389.3 1289.2,391.0 1289.8,392.7C1290.4,394.4 1291.7,400.4 1292.3,402.7C1292.9,405.0 1294.1,409.5 1294.8,411.0C1295.5,412.5 1297.1,414.0 1298.1,414.6C1299.1,415.2 1302.1,414.7 1303.1,415.9C1304.1,417.1 1305.2,421.5 1305.8,424.2C1306.5,426.9 1307.7,434.0 1308.3,437.5C1308.9,441.0 1310.1,448.7 1310.6,452.4C1311.2,456.1 1312.4,464.4 1313.0,467.3C1313.6,470.2 1314.9,475.8 1315.5,476.0C1316.1,476.2 1317.4,471.9 1318.0,469.0C1318.6,466.1 1319.8,457.0 1320.4,452.4C1321.0,447.8 1322.1,437.5 1322.6,432.5C1323.1,427.5 1324.2,417.2 1324.7,412.6C1325.3,408.0 1326.4,399.9 1327.0,396.0C1327.6,392.1 1328.8,384.4 1329.4,381.1C1330.1,377.8 1331.4,371.8 1332.1,369.5C1332.8,367.2 1334.5,364.6 1335.4,362.9C1336.3,361.2 1338.2,358.2 1339.6,356.2C1340.9,354.2 1344.5,349.2 1346.2,347.1C1347.9,345.0 1351.1,341.2 1352.8,339.7C1354.5,338.1 1357.8,335.7 1359.5,334.7C1361.2,333.7 1364.4,332.2 1366.1,331.4C1367.8,330.6 1371.2,328.5 1372.7,328.4C1374.2,328.3 1376.5,329.6 1377.7,330.5C1378.9,331.4 1381.1,333.9 1381.9,335.5C1382.7,337.1 1383.7,340.4 1384.4,343.0C1385.0,345.6 1386.2,352.9 1386.8,356.2C1387.5,359.5 1388.7,366.2 1389.3,369.5C1390.0,372.8 1391.3,380.2 1391.9,382.8C1392.6,385.4 1393.9,390.1 1394.6,390.7C1395.3,391.3 1396.9,389.5 1397.6,387.7C1398.3,385.9 1399.4,379.6 1399.9,376.1C1400.5,372.6 1401.6,363.5 1402.2,359.6C1402.7,355.7 1403.7,347.7 1404.2,344.6C1404.7,341.5 1405.6,336.7 1406.2,334.7C1406.8,332.7 1408.5,329.7 1409.2,328.9C1409.9,328.1 1411.0,327.8 1411.7,328.4C1412.4,329.0 1414.2,332.6 1415.0,333.8C1415.8,335.0 1417.5,337.4 1418.3,338.0C1419.1,338.6 1420.9,339.3 1421.7,338.8C1422.5,338.3 1424.3,335.6 1425.0,333.8C1425.7,332.0 1426.8,327.0 1427.5,324.7C1428.2,322.4 1429.7,317.4 1430.5,315.6C1431.3,313.8 1433.0,311.5 1434.1,310.6C1435.2,309.7 1437.2,308.8 1439.1,308.5C1441.0,308.2 1447.1,308.3 1449.0,308.5C1450.9,308.7 1452.1,309.8 1454.0,309.8C1455.9,309.8 1461.1,308.7 1464.0,308.5C1466.9,308.3 1474.7,308.8 1477.2,308.5C1479.7,308.2 1482.0,306.8 1483.9,306.2C1485.8,305.6 1490.3,304.0 1492.1,304.0C1493.9,304.0 1497.0,305.1 1498.5,306.2C1500.0,307.4 1502.8,312.3 1504.1,313.1C1505.4,313.9 1507.9,313.5 1509.1,312.8C1510.2,312.1 1512.4,308.4 1513.3,307.3C1514.2,306.2 1514.7,304.6 1516.6,304.0C1518.5,303.4 1525.7,302.7 1528.2,302.8C1530.7,302.9 1534.5,303.9 1536.5,304.5C1538.5,305.1 1542.2,307.2 1543.9,307.3C1545.6,307.4 1548.1,305.8 1549.8,305.7C1551.5,305.6 1555.3,306.0 1557.2,306.8C1559.1,307.6 1563.0,311.6 1564.7,312.3C1566.4,313.0 1569.0,312.7 1570.5,312.3C1572.0,311.9 1575.0,310.2 1576.3,309.5C1577.6,308.8 1580.2,306.6 1581.3,306.5C1582.4,306.4 1584.4,308.1 1585.4,309.0C1586.4,309.9 1588.6,312.5 1589.6,313.9C1590.6,315.2 1592.8,317.8 1593.7,319.8C1594.6,321.8 1595.7,326.8 1596.4,329.7C1597.1,332.6 1598.4,339.7 1599.0,343.0C1599.7,346.3 1601.0,352.9 1601.7,356.2C1602.4,359.5 1603.8,366.5 1604.5,369.5C1605.2,372.5 1606.7,379.5 1607.5,380.3C1608.3,381.1 1610.1,378.3 1610.8,376.1C1611.5,373.9 1612.5,366.4 1613.0,362.9C1613.6,359.4 1614.7,351.2 1615.3,347.9C1615.8,344.6 1616.9,338.6 1617.5,336.3C1618.0,334.0 1619.1,330.7 1619.7,329.7C1620.3,328.7 1621.6,328.0 1622.4,328.4C1623.2,328.8 1625.0,332.2 1626.0,333.0C1627.0,333.8 1629.2,335.2 1630.2,335.0C1631.2,334.8 1633.3,332.7 1634.3,331.4C1635.3,330.1 1637.5,326.3 1638.5,324.7C1639.5,323.1 1641.4,320.1 1642.3,318.9C1643.2,317.7 1644.8,315.8 1645.9,315.1C1647.0,314.4 1649.9,313.6 1650.9,313.4C1651.9,313.2 1653.4,313.2 1654.2,313.4C1655.0,313.6 1656.5,315.1 1657.5,315.1C1658.5,315.1 1661.2,313.5 1662.5,313.1C1663.8,312.8 1667.0,312.1 1668.3,312.3C1669.5,312.5 1671.5,313.8 1672.5,314.4C1673.5,315.0 1674.8,316.8 1676.6,317.3C1678.4,317.8 1684.9,317.6 1686.6,318.1C1688.3,318.6 1688.8,320.9 1689.9,321.4C1691.0,321.9 1694.6,322.8 1695.7,322.2C1696.8,321.6 1698.2,317.9 1699.0,316.4C1699.8,314.8 1701.4,311.4 1702.3,309.8C1703.2,308.2 1705.5,304.2 1706.5,303.5C1707.5,302.8 1709.5,303.7 1710.3,304.5C1711.1,305.3 1712.4,308.7 1713.1,309.8C1713.8,310.9 1714.7,313.3 1715.6,313.4C1716.5,313.5 1719.4,311.4 1720.6,310.6C1721.8,309.8 1724.2,307.8 1725.5,306.8C1726.8,305.8 1730.1,302.9 1730.8,302.3"/>
<path stroke="#0000ff" d="M119.1,444.1 L122.5,437.5 L129.9,436.7 L136.6,441.6 L140.7,456.6 L144.0,456.6 L146.5,449.9 L152.3,450.8 L154.8,441.6 L159.8,446.6 L164.8,449.1 L168.1,462.4 L173.0,471.5 L177.7,479.8 L180.5,469.8 L183.0,466.5 L186.3,474.0 L189.6,470.7 L192.9,452.4 L197.1,445.0 L202.9,448.3 L207.0,443.3 L214.5,444.1 L219.5,440.8 L225.3,445.8 L231.9,443.3 L237.7,446.6 L243.5,445.0 L251.0,448.3 L257.6,455.7 L264.3,446.6 L270.1,442.5 L275.0,444.1 L280.8,452.4 L287.5,453.3 L293.3,451.6 L299.1,442.5 L304.1,440.0 L310.7,440.0 L318.2,443.3 L327.3,441.6 L331.4,435.8 L336.4,441.6 L343.9,443.3 L353.8,442.5 L360.4,441.6 L365.4,436.7 L372.0,445.0 L378.7,435.8 L386.1,444.1 L393.6,434.2 L400.0,442.5 L405.0,440.8 L410.0,439.2 L414.9,435.8 L419.9,438.3 L424.9,435.8 L429.9,440.0 L436.5,435.0 L443.1,436.7 L449.8,439.2 L454.7,435.0 L459.7,436.7 L469.7,437.5 L474.6,444.1 L479.6,451.6 L482.9,462.4 L485.1,472.3 L487.4,481.9 L489.7,493.3 L492.3,513.2 L495.1,533.1 L497.7,551.3 L500.2,569.6 L502.6,586.1 L504.8,606.0 L506.7,625.9 L508.3,645.8 L509.6,665.7 L510.9,687.8 L512.3,714.9 L514.0,739.8 L516.1,763.0 L518.5,779.6 L521.1,787.8 L524.4,782.9 L527.2,769.6 L529.7,753.0 L531.7,736.4 L533.6,719.9 L535.6,704.9 L538.0,693.6 L540.7,680.7 L543.2,669.1 L545.3,649.2 L547.2,629.3 L548.9,617.6 L550.6,616.0 L552.2,621.0 L553.9,637.5 L555.6,659.1 L557.2,670.7 L558.9,664.1 L560.5,642.5 L562.2,612.7 L563.9,582.8 L565.7,553.0 L567.7,529.8 L569.8,509.9 L571.7,490.0 L573.7,480.6 L575.8,469.0 L579.9,459.1 L584.1,450.8 L588.2,447.4"/>
<path stroke="#0000ff" d="M615.6,440.8C616.2,441.2 619.1,443.5 620.6,444.1C622.1,444.7 625.6,445.2 627.2,445.8C628.9,446.4 632.1,448.0 633.8,449.1C635.5,450.2 638.8,453.8 640.5,454.9C642.2,456.0 645.6,457.3 647.1,458.2C648.6,459.1 651.0,461.0 652.1,462.4C653.2,463.8 655.4,466.9 656.2,469.0C657.0,471.1 658.0,476.1 658.6,479.5C659.2,482.9 660.4,490.3 661.0,496.6C661.6,502.9 662.7,521.5 663.2,529.8C663.8,538.1 664.7,554.6 665.2,562.9C665.6,571.2 666.4,587.8 666.8,596.1C667.2,604.4 667.8,621.0 668.1,629.3C668.5,637.6 669.0,655.0 669.3,662.4C669.5,669.8 670.0,681.0 670.2,688.6C670.5,696.2 670.9,714.7 671.2,723.2C671.5,731.7 672.0,748.0 672.3,756.3C672.6,764.6 673.3,781.2 673.6,789.5C673.9,797.8 674.6,814.4 674.9,822.7C675.2,831.0 675.9,847.5 676.2,855.8C676.5,864.1 677.1,883.5 677.4,889.0C677.7,894.5 678.2,894.5 678.5,900.0C678.7,905.5 679.2,923.9 679.5,933.2C679.8,942.5 680.3,965.9 680.6,974.6C680.9,983.3 681.5,996.2 681.8,1002.8C682.0,1009.4 682.6,1022.3 682.9,1027.7C683.2,1033.1 683.7,1041.6 684.0,1045.9C684.3,1050.2 685.0,1059.3 685.3,1062.5C685.6,1065.7 686.2,1071.6 686.6,1071.6C687.0,1071.6 687.8,1065.7 688.2,1062.5C688.6,1059.3 689.3,1050.5 689.6,1045.9C690.0,1041.3 690.7,1032.6 691.0,1026.0C691.3,1019.4 691.9,1000.4 692.2,992.9C692.5,985.4 693.1,975.4 693.4,966.3C693.6,957.2 694.1,928.2 694.4,919.9C694.6,911.6 694.9,903.9 695.1,900.0C695.3,896.1 695.7,898.7 695.9,889.0C696.1,879.3 696.5,839.3 696.7,822.7C696.9,806.1 697.3,768.7 697.5,756.3C697.7,743.9 698.0,729.6 698.1,723.2C698.3,716.8 698.5,710.5 698.7,705.0C698.8,699.5 699.2,686.4 699.4,679.0C699.6,671.6 700.1,653.0 700.4,645.8C700.7,638.5 701.4,626.8 701.8,621.0C702.2,615.2 703.1,604.6 703.7,599.4C704.2,594.2 705.5,584.7 706.2,579.5C706.9,574.3 708.4,562.9 709.1,557.9C709.9,552.9 711.6,543.4 712.4,539.7C713.2,536.0 714.8,531.2 715.7,528.1C716.6,525.0 718.8,517.9 719.8,514.8C720.8,511.7 723.0,506.5 724.0,503.2C725.0,499.9 726.9,491.6 727.8,488.6C728.8,485.6 730.5,481.2 731.4,479.0C732.3,476.8 734.0,472.3 734.8,470.7C735.6,469.1 737.3,467.9 738.1,466.5C738.9,465.1 740.5,460.9 741.4,459.9C742.3,458.9 744.3,458.1 745.5,458.2C746.7,458.3 749.9,460.5 751.3,460.4C752.6,460.3 755.0,458.3 756.3,457.4C757.5,456.5 759.4,453.9 761.3,453.3C763.2,452.7 769.1,453.0 771.2,452.4C773.3,451.8 776.2,449.0 777.9,448.3C779.6,447.6 782.9,447.3 784.5,446.6C786.1,445.9 789.4,443.4 791.1,442.5C792.8,441.6 796.3,439.8 797.8,439.2C799.2,438.6 800.8,438.0 802.7,437.5C804.6,437.0 810.8,435.4 812.7,435.5C814.6,435.6 816.0,437.9 817.7,438.3C819.4,438.7 824.5,438.7 826.0,438.3C827.5,437.9 829.1,435.6 830.1,435.5C831.1,435.4 833.0,436.6 834.3,437.2C835.5,437.8 838.5,440.4 840.1,440.5C841.8,440.6 845.5,437.6 847.5,437.8C849.5,438.1 853.6,442.8 855.8,442.5C858.0,442.2 863.0,436.2 864.9,435.5C866.8,434.8 869.1,436.7 870.7,436.7C872.3,436.7 876.0,435.2 877.4,435.5C878.8,435.8 880.8,438.6 882.3,439.2C883.8,439.8 888.0,441.0 889.8,440.5C891.6,440.0 895.0,435.5 896.4,435.0C897.8,434.5 899.6,436.0 900.6,436.7C901.6,437.4 903.8,439.2 904.7,440.8C905.6,442.4 907.4,446.6 908.1,449.1C908.8,451.6 909.6,457.6 910.1,460.7C910.6,463.8 911.6,470.7 912.0,474.0C912.5,477.3 913.3,484.4 913.7,487.2C914.1,490.0 914.9,493.4 915.3,496.6C915.8,499.9 916.6,509.3 917.1,513.2C917.5,517.1 918.6,524.8 919.1,528.1C919.6,531.4 920.6,537.2 921.3,539.7C922.0,542.2 923.9,546.6 924.6,548.0C925.3,549.4 926.4,550.8 927.1,550.5C927.8,550.2 929.4,546.8 930.1,545.5C930.8,544.2 932.2,541.9 932.9,540.5C933.6,539.1 935.1,536.7 935.7,534.7C936.3,532.7 937.4,527.7 938.0,524.8C938.6,521.9 939.8,514.5 940.4,511.5C941.0,508.5 942.2,502.6 942.9,500.7C943.6,498.8 945.0,497.5 946.2,496.6C947.4,495.7 951.3,494.2 952.8,493.3C954.2,492.4 956.8,489.1 957.8,489.1C958.8,489.1 960.4,491.3 961.1,493.3C961.8,495.3 963.0,501.6 963.6,504.9C964.2,508.2 965.4,516.1 965.9,519.8C966.5,523.5 967.6,531.6 968.1,534.7C968.7,537.8 969.7,543.4 970.2,544.7C970.7,546.0 971.7,545.8 972.2,545.0C972.7,544.2 973.8,540.7 974.4,538.0C974.9,535.3 976.1,526.6 976.6,523.1C977.2,519.6 978.2,511.9 978.9,509.9C979.6,507.8 981.6,505.5 982.5,506.7C983.5,507.9 985.5,516.9 986.3,519.8C987.1,522.7 988.0,528.2 988.6,529.8C989.2,531.3 990.5,532.6 991.2,532.2C991.9,531.8 993.3,528.6 994.0,526.4C994.7,524.2 995.9,517.0 996.5,514.8C997.1,512.6 998.3,509.1 999.0,508.5C999.7,507.9 1001.1,508.1 1001.8,509.9C1002.5,511.7 1003.7,519.0 1004.4,523.1C1005.0,527.2 1006.3,538.0 1006.9,543.0C1007.5,548.0 1008.8,557.9 1009.4,562.9C1010.0,567.9 1011.3,578.2 1011.9,582.8C1012.6,587.4 1013.9,595.9 1014.6,599.4C1015.2,602.9 1016.6,610.0 1017.3,611.0C1018.0,612.0 1019.4,610.0 1020.1,607.7C1020.8,605.4 1022.0,596.9 1022.6,592.8C1023.2,588.6 1024.4,579.3 1025.0,574.5C1025.6,569.7 1026.8,559.6 1027.4,554.6C1028.0,549.6 1029.2,539.5 1029.8,534.7C1030.4,529.9 1031.7,520.9 1032.4,516.5C1033.0,512.1 1034.4,503.2 1035.1,499.9C1035.8,496.6 1037.2,492.7 1038.0,490.0C1038.8,487.3 1040.7,481.0 1041.7,478.6C1042.7,476.3 1045.1,472.5 1046.3,471.5C1047.5,470.5 1050.1,470.1 1051.3,470.3C1052.5,470.5 1055.0,472.4 1056.2,473.2C1057.4,474.0 1060.0,475.5 1061.2,476.5C1062.5,477.5 1065.2,480.2 1066.2,481.4C1067.2,482.6 1068.7,484.6 1069.5,486.1C1070.3,487.6 1072.1,490.5 1072.8,493.3C1073.5,496.1 1074.6,503.6 1075.2,508.2C1075.8,512.8 1077.0,524.4 1077.6,529.8C1078.1,535.2 1079.3,545.9 1079.8,551.3C1080.3,556.7 1081.4,567.7 1081.9,572.9C1082.5,578.1 1083.5,589.4 1084.0,592.8C1084.5,596.2 1085.5,600.0 1086.1,600.2C1086.7,600.4 1087.9,597.0 1088.5,594.4C1089.0,591.8 1090.2,583.9 1090.8,579.5C1091.3,575.1 1092.4,564.8 1093.0,559.6C1093.6,554.4 1094.7,543.2 1095.3,538.0C1095.9,532.8 1097.1,521.2 1097.7,518.1C1098.3,515.0 1099.4,513.7 1100.2,512.8C1101.0,511.9 1103.1,511.0 1104.0,511.2C1104.9,511.4 1106.7,512.7 1107.6,514.0C1108.5,515.3 1110.1,519.1 1111.0,521.5C1111.9,523.9 1114.0,530.5 1115.1,533.1C1116.2,535.7 1119.2,538.9 1120.1,542.2C1121.0,545.5 1121.8,554.1 1122.3,559.6C1122.9,565.1 1123.9,579.5 1124.4,586.1C1124.8,592.7 1125.7,606.3 1126.1,612.7C1126.5,619.1 1127.3,631.3 1127.7,637.5C1128.0,643.7 1128.7,656.0 1129.0,662.4C1129.3,668.8 1129.9,682.7 1130.2,688.6C1130.5,694.6 1131.1,705.0 1131.5,709.9C1131.8,714.8 1132.6,724.2 1133.0,728.1C1133.3,732.0 1134.2,738.9 1134.6,741.4C1135.0,743.9 1135.8,748.2 1136.2,748.0C1136.6,747.8 1137.7,742.9 1138.1,739.8C1138.6,736.7 1139.5,727.4 1139.9,723.2C1140.3,719.1 1141.1,710.8 1141.4,706.6C1141.7,702.5 1142.2,693.5 1142.5,690.0C1142.7,686.5 1143.1,683.5 1143.4,679.0C1143.6,674.5 1144.2,661.4 1144.6,654.1C1144.9,646.9 1145.8,628.7 1146.3,621.0C1146.8,613.3 1147.8,599.4 1148.4,592.8C1148.9,586.2 1150.1,572.3 1150.8,567.9C1151.4,563.5 1152.4,560.1 1153.3,557.9C1154.2,555.7 1157.0,551.7 1158.2,550.5C1159.4,549.3 1162.1,547.9 1163.2,548.0C1164.3,548.1 1166.5,549.4 1167.3,551.3C1168.1,553.2 1169.0,559.0 1169.5,562.9C1170.0,566.8 1171.1,577.0 1171.6,582.8C1172.1,588.6 1173.0,602.6 1173.5,609.4C1174.0,616.2 1174.8,629.8 1175.2,637.5C1175.6,645.2 1176.2,664.1 1176.5,670.7C1176.8,677.3 1177.3,684.5 1177.6,690.0C1177.8,695.5 1178.3,708.1 1178.6,714.9C1178.9,721.7 1179.6,737.5 1180.0,744.7C1180.4,752.0 1181.2,766.7 1181.6,772.9C1182.0,779.1 1182.9,789.9 1183.4,794.5C1183.8,799.1 1184.8,806.5 1185.3,809.4C1185.8,812.3 1186.3,816.7 1187.3,817.7C1188.3,818.7 1192.3,817.1 1193.4,817.7C1194.5,818.3 1195.6,821.2 1196.4,822.7C1197.2,824.2 1199.0,828.8 1199.8,830.1C1200.6,831.4 1202.3,833.4 1203.1,833.4C1203.9,833.4 1205.7,831.6 1206.4,830.1C1207.1,828.6 1208.0,823.6 1208.5,821.0C1209.0,818.4 1210.0,812.9 1210.4,809.4C1210.9,805.9 1211.7,797.8 1212.2,792.8C1212.6,787.8 1213.4,775.8 1213.8,769.6C1214.2,763.4 1215.1,749.5 1215.5,743.1C1215.9,736.7 1216.7,723.8 1217.1,718.2C1217.4,712.6 1218.1,701.8 1218.4,698.3C1218.7,694.8 1219.1,692.4 1219.4,690.0C1219.6,687.6 1220.0,684.5 1220.3,679.0C1220.6,673.5 1221.3,654.1 1221.7,645.8C1222.0,637.5 1222.9,621.0 1223.4,612.7C1223.9,604.4 1224.9,587.4 1225.4,579.5C1225.9,571.6 1227.0,555.9 1227.5,549.7C1228.1,543.5 1229.2,534.8 1229.8,529.8C1230.4,524.8 1231.7,514.3 1232.4,509.9C1233.1,505.5 1234.4,498.4 1235.3,494.9C1236.2,491.4 1238.7,484.2 1239.7,482.0C1240.7,479.8 1242.5,477.1 1243.3,477.0C1244.1,476.9 1245.5,479.8 1246.1,481.4C1246.7,483.0 1247.8,486.9 1248.4,490.0C1249.0,493.1 1250.1,501.9 1250.7,506.5C1251.2,511.1 1252.3,521.4 1252.9,526.4C1253.5,531.4 1254.7,541.3 1255.3,546.3C1255.9,551.3 1257.1,562.3 1257.7,566.2C1258.3,570.1 1259.5,576.5 1260.2,577.5C1260.9,578.5 1262.5,575.9 1263.2,574.5C1263.9,573.1 1266.0,566.4 1266.0,566.2C1266.0,566.0 1263.6,573.1 1263.6,572.9C1263.6,572.7 1265.1,566.1 1265.8,564.6C1266.5,563.1 1268.3,561.3 1269.1,561.3C1269.9,561.3 1271.5,563.8 1272.4,564.6C1273.3,565.4 1275.3,567.6 1276.2,567.6C1277.1,567.6 1278.7,566.0 1279.5,564.6C1280.3,563.2 1281.7,558.6 1282.4,556.3C1283.1,554.0 1284.3,548.0 1284.9,546.3C1285.5,544.6 1286.6,543.0 1287.3,542.7C1288.0,542.4 1289.6,542.7 1290.2,543.8C1290.8,544.9 1291.7,549.3 1292.3,551.3C1292.9,553.3 1294.1,557.9 1294.8,559.6C1295.5,561.3 1297.1,563.8 1298.1,564.6C1299.1,565.4 1302.1,565.1 1303.1,565.9C1304.1,566.7 1305.5,569.1 1306.1,571.2C1306.7,573.3 1307.6,579.5 1308.1,582.8C1308.6,586.1 1309.6,594.0 1310.1,597.7C1310.6,601.4 1311.6,609.4 1312.1,612.7C1312.6,616.0 1313.5,622.3 1314.0,624.3C1314.5,626.3 1315.5,629.1 1316.0,628.9C1316.5,628.7 1317.7,625.5 1318.3,622.6C1318.8,619.7 1319.9,611.0 1320.5,606.0C1321.0,601.0 1322.1,588.6 1322.6,582.8C1323.1,577.0 1324.1,564.8 1324.7,559.6C1325.2,554.4 1326.2,545.8 1326.8,541.4C1327.3,537.0 1328.5,528.7 1329.1,524.8C1329.7,520.9 1331.0,513.2 1331.7,509.9C1332.4,506.6 1333.6,501.0 1334.6,498.2C1335.6,495.4 1338.1,489.8 1339.6,487.5C1341.0,485.2 1344.5,481.6 1346.2,479.8C1347.9,478.0 1351.1,474.8 1352.8,473.2C1354.5,471.6 1358.0,468.2 1359.5,467.3C1361.0,466.4 1363.0,466.4 1364.5,465.7C1366.0,465.0 1369.5,462.4 1371.1,462.0C1372.6,461.6 1375.6,461.8 1376.9,462.7C1378.2,463.6 1381.0,467.4 1381.9,469.0C1382.8,470.6 1383.6,473.3 1384.1,475.6C1384.6,477.9 1385.6,484.6 1386.1,487.2C1386.6,489.8 1387.6,493.8 1388.1,496.6C1388.7,499.4 1389.7,506.6 1390.3,509.9C1390.8,513.2 1392.0,520.7 1392.6,523.1C1393.2,525.5 1394.4,528.9 1395.1,528.9C1395.8,528.9 1397.4,525.5 1398.0,523.1C1398.6,520.7 1399.6,513.6 1400.1,509.9C1400.6,506.2 1401.5,496.6 1402.0,493.3C1402.4,490.1 1403.2,486.5 1403.7,483.9C1404.1,481.3 1404.9,474.7 1405.4,472.3C1405.8,469.9 1406.6,466.2 1407.2,464.9C1407.8,463.5 1409.4,461.6 1410.1,461.5C1410.8,461.4 1411.8,462.8 1412.5,464.0C1413.2,465.2 1415.0,469.9 1415.9,471.5C1416.8,473.1 1419.1,477.0 1420.0,477.0C1420.9,477.0 1422.5,473.5 1423.3,471.5C1424.1,469.5 1425.8,463.2 1426.6,460.7C1427.4,458.2 1429.1,453.4 1430.0,451.6C1430.9,449.8 1433.0,447.5 1434.1,446.6C1435.2,445.7 1437.6,444.7 1439.1,444.1C1440.5,443.5 1443.8,442.1 1445.7,441.6C1447.6,441.2 1451.9,440.9 1454.0,440.5C1456.1,440.1 1460.2,438.6 1462.3,438.3C1464.4,438.0 1468.7,437.7 1470.6,437.8C1472.5,437.9 1475.5,439.2 1477.2,439.5C1478.9,439.8 1482.3,439.8 1483.9,440.0C1485.5,440.2 1487.9,440.9 1489.7,440.8C1491.5,440.7 1496.4,438.6 1498.2,439.1C1500.0,439.7 1502.7,444.7 1504.1,445.5C1505.5,446.3 1507.9,446.2 1509.1,445.5C1510.2,444.8 1512.3,441.4 1513.3,440.0C1514.3,438.6 1516.0,435.2 1517.4,434.5C1518.9,433.8 1523.2,433.9 1524.9,434.2C1526.6,434.5 1529.1,436.1 1530.7,436.7C1532.3,437.3 1536.3,439.2 1538.1,439.2C1539.9,439.2 1543.3,437.2 1544.8,436.7C1546.3,436.2 1548.5,435.6 1549.8,435.5C1551.1,435.4 1554.0,435.4 1555.6,435.8C1557.1,436.2 1560.7,438.0 1562.2,438.8C1563.8,439.6 1566.5,441.9 1568.0,442.1C1569.5,442.3 1573.0,441.0 1574.6,440.5C1576.1,440.0 1579.2,438.0 1580.4,437.8C1581.7,437.6 1583.4,438.4 1584.6,439.2C1585.8,440.0 1588.4,443.3 1589.6,444.5C1590.8,445.7 1593.3,447.3 1594.2,449.1C1595.1,450.9 1596.2,456.2 1596.9,459.1C1597.5,462.0 1598.8,468.7 1599.5,472.3C1600.2,475.9 1601.5,484.1 1602.1,487.8C1602.8,491.5 1604.1,498.8 1604.8,501.6C1605.5,504.4 1607.0,509.9 1607.8,509.9C1608.5,509.9 1610.1,504.4 1610.8,501.6C1611.5,498.8 1613.0,491.7 1613.8,487.8C1614.5,483.9 1615.9,473.9 1616.6,470.7C1617.3,467.5 1618.6,463.2 1619.4,462.0C1620.2,460.8 1621.7,460.3 1622.7,460.7C1623.7,461.1 1626.5,465.2 1627.7,465.4C1629.0,465.6 1631.6,463.7 1632.7,462.4C1633.8,461.1 1635.8,456.9 1636.8,454.9C1637.8,452.9 1640.0,448.1 1641.0,446.6C1642.0,445.1 1644.0,443.2 1645.1,442.8C1646.2,442.4 1648.8,443.8 1650.1,443.8C1651.4,443.8 1654.6,442.2 1655.9,442.8C1657.2,443.4 1659.7,447.7 1660.9,448.3C1662.1,448.9 1664.5,447.7 1665.8,447.8C1667.1,447.9 1670.1,449.1 1671.6,449.1C1673.0,449.1 1676.2,447.7 1677.4,447.8C1678.7,447.9 1680.3,450.4 1681.6,449.9C1682.8,449.4 1686.2,444.3 1687.4,443.8C1688.6,443.3 1690.4,445.4 1691.5,446.1C1692.6,446.8 1695.3,448.0 1696.5,449.1C1697.7,450.2 1700.0,454.7 1701.0,454.9C1702.0,455.1 1703.9,452.1 1704.8,450.8C1705.7,449.5 1707.2,445.7 1708.1,444.1C1709.0,442.5 1711.3,439.4 1712.3,438.3C1713.3,437.2 1715.4,434.9 1716.4,435.5C1717.4,436.1 1719.5,442.8 1720.6,443.3C1721.7,443.8 1724.2,440.4 1725.5,439.5C1726.8,438.6 1730.1,436.6 1730.8,436.2"/>
<path stroke="#ff8000" d="M119.1,644.8 L127.3,642.7 L135.5,643.8 L145.8,641.7 L156.0,642.7 L164.2,638.6 L174.5,642.7 L180.6,641.7 L186.8,637.6 L190.5,640.7 L193.8,655.0 L197.0,667.3 L200.1,664.3 L203.2,656.1 L207.3,659.1 L213.4,658.1 L219.6,666.3 L226.7,672.5 L236.0,673.5 L244.2,677.6 L250.3,683.8 L258.5,687.9 L266.7,690.9 L273.9,693.0 L279.0,690.9 L287.2,687.9 L295.4,682.7 L303.6,681.7 L313.9,677.6 L322.1,674.5 L330.3,671.4 L340.5,669.4 L350.8,663.2 L361.1,659.1 L369.3,655.0 L379.5,652.0 L387.7,648.9 L397.9,648.5 L406.6,646.7 L413.3,645.0 L419.9,642.5 L426.5,640.9 L433.2,643.3 L439.8,640.9 L446.4,641.7 L449.8,640.0 L456.4,640.9 L463.0,645.0 L469.7,647.5 L474.6,651.6 L480.4,655.0 L483.7,662.4 L487.1,670.7 L490.4,679.0 L493.7,687.3 L496.2,697.2 L493.7,690.0 L496.6,700.0 L499.1,719.9 L501.2,739.8 L502.9,761.3 L504.4,781.2 L505.7,802.8 L506.9,831.0 L507.9,864.1 L508.8,889.0 L509.5,900.0 L510.1,921.6 L510.9,951.4 L511.9,982.9 L513.0,1009.5 L514.1,1039.3 L515.2,1052.6 L516.3,1072.5 L517.4,1085.7 L519.7,1082.4 L521.4,1084.1 L522.9,1097.3 L524.1,1111.1 L525.1,1127.8 L526.0,1147.0 L527.0,1159.4 L528.2,1178.6 L529.4,1194.8 L530.9,1178.6 L532.1,1164.2 L533.2,1142.2 L534.3,1127.8 L535.3,1107.0 L536.3,1092.4 L537.4,1077.4 L538.6,1065.8 L540.0,1054.2 L541.6,1044.3 L543.1,1036.0 L544.4,1022.7 L545.5,1007.8 L546.4,984.6 L547.2,974.6 L548.1,943.1 L549.0,933.2 L550.1,919.9 L551.2,916.6 L552.2,921.6 L553.1,933.2 L554.1,949.8 L555.3,969.7 L556.7,987.1 L558.3,977.9 L559.9,963.0 L561.6,949.8 L563.3,934.8 L565.0,929.9 L567.5,932.3 L568.4,916.6 L569.1,900.0 L569.9,864.1 L570.6,831.0 L571.3,806.1 L572.1,782.9 L572.8,759.7 L573.7,739.8 L574.8,719.9 L576.4,703.3 L578.0,695.0 L579.1,692.0 L581.6,682.3 L584.9,672.4 L587.7,667.4"/>
<path stroke="#ff8000" d="M615.6,635.4C616.8,635.1 623.4,633.4 625.5,633.4C627.6,633.4 630.3,635.0 632.2,635.4C634.1,635.8 638.4,636.2 640.5,636.2C642.6,636.2 646.9,635.5 648.8,635.6C650.7,635.7 653.8,636.8 655.4,636.7C657.0,636.6 660.3,634.8 662.0,634.6C663.7,634.4 667.4,635.1 668.7,635.1C670.1,635.1 672.0,634.6 672.8,634.2C673.6,633.8 674.6,632.0 675.3,632.2C676.0,632.4 677.1,635.2 678.6,635.9C680.1,636.6 684.9,637.3 687.6,637.5C690.3,637.8 697.3,637.2 699.9,637.5C702.5,637.8 705.9,639.8 708.2,640.0C710.5,640.2 716.3,639.6 718.2,639.5C720.1,639.4 721.3,638.6 723.1,638.9C724.9,639.2 729.8,641.5 732.3,641.7C734.8,641.9 741.0,640.8 743.0,640.5C745.0,640.2 746.1,639.4 748.0,639.5C749.9,639.6 756.0,641.6 758.0,641.7C760.0,641.8 762.3,640.4 763.8,640.5C765.2,640.6 767.8,642.2 769.6,642.2C771.4,642.2 776.0,640.6 777.9,640.9C779.8,641.1 783.2,643.7 784.5,644.2C785.8,644.7 787.4,645.2 788.6,645.0C789.9,644.8 793.1,642.7 794.5,642.2C795.9,641.7 797.8,641.2 799.4,641.2C801.0,641.2 805.4,641.8 807.7,642.2C810.0,642.6 815.7,643.9 817.7,644.5C819.7,645.1 822.4,647.0 823.5,646.7C824.6,646.5 825.7,643.1 826.8,642.5C827.9,641.9 831.1,641.8 832.6,642.2C834.1,642.6 837.3,645.5 838.4,645.5C839.5,645.5 840.2,642.3 841.7,642.2C843.2,642.1 848.8,643.7 850.8,644.5C852.8,645.3 855.4,647.6 857.5,648.3C859.6,649.0 865.1,649.3 867.4,650.0C869.7,650.7 873.8,653.4 875.7,654.1C877.6,654.8 880.7,654.9 882.3,655.5C883.9,656.1 886.9,658.1 888.2,658.8C889.6,659.5 891.9,659.8 893.1,660.8C894.3,661.8 896.9,665.0 898.1,666.6C899.4,668.2 902.0,672.0 903.1,674.0C904.2,676.0 906.4,680.2 907.2,682.3C908.0,684.4 909.1,688.5 909.7,690.6C910.3,692.7 911.9,699.0 911.9,698.9C911.9,698.8 909.8,689.7 909.9,690.0C910.0,690.3 911.9,698.3 912.5,701.6C913.2,704.9 914.4,712.1 914.9,716.5C915.5,720.9 916.5,731.4 917.0,736.4C917.5,741.4 918.3,751.3 918.7,756.3C919.1,761.3 919.8,771.0 920.1,776.2C920.5,781.4 921.1,792.4 921.5,797.8C921.8,803.2 922.4,814.2 922.8,819.4C923.1,824.6 923.8,834.3 924.2,839.3C924.5,844.3 925.3,854.4 925.7,859.2C926.1,864.0 927.0,872.9 927.5,877.4C928.0,881.9 929.0,891.4 929.5,895.6C930.1,899.9 931.1,909.7 931.7,911.4C932.3,913.1 934.0,910.7 934.7,908.9C935.4,907.1 936.8,900.8 937.4,897.3C938.1,893.8 939.4,885.1 940.0,880.7C940.7,876.4 941.9,866.6 942.5,862.5C943.2,858.4 944.4,850.8 944.9,847.5C945.5,844.2 946.7,838.6 947.3,835.9C947.9,833.2 949.0,828.7 949.7,826.0C950.4,823.3 952.3,817.1 953.0,814.4C953.7,811.7 954.7,807.3 955.3,804.4C955.8,801.5 956.9,793.8 957.4,791.2C957.9,788.6 958.8,784.9 959.3,783.7C959.8,782.6 960.8,781.3 961.3,782.0C961.8,782.7 963.0,787.1 963.6,789.5C964.1,791.9 965.2,798.6 965.8,801.1C966.3,803.6 967.3,808.4 967.9,809.4C968.5,810.4 969.8,811.1 970.4,809.4C971.0,807.7 971.9,800.0 972.4,796.1C972.9,792.2 973.9,782.4 974.3,777.9C974.8,773.4 975.7,764.5 976.1,759.7C976.6,754.9 977.4,744.4 977.9,739.8C978.3,735.2 979.2,726.9 979.7,723.2C980.2,719.5 981.2,713.0 981.7,709.9C982.3,706.8 983.5,701.1 984.1,698.3C984.7,695.5 985.9,689.8 986.8,687.8C987.6,685.8 990.2,682.9 991.2,682.3C992.2,681.7 993.8,681.7 994.5,682.7C995.2,683.7 996.0,687.9 996.5,690.6C996.9,693.3 997.8,699.9 998.2,704.4C998.6,708.9 999.4,721.0 999.8,726.5C1000.2,732.0 1001.0,742.6 1001.4,748.0C1001.8,753.4 1002.7,764.0 1003.1,769.6C1003.5,775.2 1004.3,787.0 1004.7,792.8C1005.1,798.6 1005.9,810.6 1006.2,816.0C1006.6,821.4 1007.3,832.0 1007.7,835.9C1008.0,839.8 1008.7,847.1 1009.0,847.5C1009.3,847.9 1010.0,843.2 1010.4,839.3C1010.7,835.4 1011.5,821.8 1011.8,816.0C1012.2,810.2 1012.9,798.6 1013.3,792.8C1013.7,787.0 1014.3,774.2 1014.7,769.6C1015.0,765.0 1015.4,758.6 1016.0,756.3C1016.6,754.0 1018.7,753.9 1019.3,751.4C1019.9,748.9 1020.6,741.2 1021.0,736.4C1021.4,731.6 1022.3,717.1 1022.8,713.2C1023.2,709.3 1024.0,706.2 1024.6,704.9C1025.2,703.6 1026.9,702.8 1027.6,702.9C1028.3,703.0 1029.5,704.8 1030.1,705.8C1030.7,706.8 1031.4,709.8 1032.2,710.7C1033.0,711.6 1035.8,712.2 1036.7,713.2C1037.6,714.2 1038.9,717.5 1039.5,719.0C1040.1,720.5 1041.1,723.8 1041.7,724.8C1042.3,725.8 1043.6,727.3 1044.2,727.3C1044.8,727.3 1046.1,726.3 1046.7,724.8C1047.3,723.2 1048.5,718.0 1049.0,714.9C1049.6,711.8 1050.6,702.9 1051.1,700.0C1051.6,697.1 1052.5,694.0 1052.9,692.0C1053.3,690.0 1054.0,685.7 1054.6,684.0C1055.2,682.3 1057.1,679.4 1057.9,678.7C1058.7,678.0 1060.4,678.0 1061.2,678.7C1062.0,679.4 1063.8,682.4 1064.5,684.0C1065.2,685.6 1066.2,690.4 1067.0,691.4C1067.8,692.4 1070.2,692.0 1071.2,691.9C1072.2,691.8 1074.3,690.6 1075.3,690.9C1076.3,691.1 1078.5,693.2 1079.5,693.9C1080.5,694.6 1082.6,696.1 1083.6,696.4C1084.6,696.7 1086.6,696.8 1087.7,696.4C1088.8,696.0 1091.5,694.1 1092.7,693.1C1093.9,692.1 1095.9,688.7 1096.9,688.1C1097.9,687.5 1100.1,687.4 1101.0,688.1C1101.9,688.8 1103.4,692.5 1104.0,693.9C1104.6,695.3 1105.2,697.6 1105.6,699.4C1105.9,701.2 1106.7,705.2 1107.1,708.2C1107.5,711.2 1108.3,718.8 1108.7,723.2C1109.0,727.6 1109.7,737.9 1110.0,743.1C1110.4,748.3 1110.9,759.2 1111.2,764.6C1111.5,770.0 1112.1,781.0 1112.4,786.2C1112.6,791.4 1113.2,801.1 1113.5,806.1C1113.9,811.1 1114.5,822.0 1114.9,826.0C1115.2,830.0 1115.9,838.4 1116.3,838.4C1116.7,838.4 1117.8,828.8 1118.2,826.0C1118.7,823.2 1119.5,818.1 1120.1,816.0C1120.7,813.9 1122.0,810.3 1123.0,809.4C1124.0,808.5 1126.9,809.2 1127.9,808.6C1128.9,808.0 1130.1,806.2 1130.7,804.4C1131.3,802.6 1131.9,797.2 1132.4,794.5C1132.8,791.8 1133.7,786.2 1134.1,782.9C1134.6,779.6 1135.5,771.2 1136.0,767.9C1136.5,764.6 1137.2,758.6 1137.9,756.3C1138.6,754.0 1140.3,750.8 1141.2,749.7C1142.1,748.6 1144.3,747.6 1145.3,747.7C1146.3,747.8 1148.5,749.0 1149.5,750.5C1150.5,752.0 1152.2,757.1 1153.0,759.7C1153.8,762.3 1155.1,768.4 1155.8,771.3C1156.5,774.2 1157.8,780.5 1158.6,782.9C1159.4,785.3 1161.2,789.9 1161.9,790.3C1162.7,790.7 1164.0,788.4 1164.6,786.2C1165.2,784.0 1166.1,776.4 1166.6,772.9C1167.1,769.4 1168.2,761.7 1168.7,758.0C1169.3,754.3 1170.4,746.6 1171.0,743.1C1171.6,739.6 1172.9,732.9 1173.6,729.8C1174.3,726.7 1175.7,720.8 1176.5,718.2C1177.3,715.6 1179.1,710.9 1179.9,709.1C1180.7,707.3 1182.3,705.0 1183.2,704.1C1184.1,703.2 1186.3,701.5 1187.3,701.6C1188.3,701.7 1190.3,703.6 1191.1,704.9C1191.9,706.1 1193.2,709.1 1193.9,711.6C1194.6,714.1 1195.8,721.1 1196.4,724.8C1197.0,728.5 1198.2,737.5 1198.7,741.4C1199.3,745.3 1200.4,753.2 1201.0,756.3C1201.5,759.4 1202.3,764.9 1203.1,766.3C1203.9,767.6 1206.4,766.5 1207.2,767.1C1208.0,767.7 1209.0,770.5 1209.7,771.3C1210.4,772.1 1212.1,774.1 1212.7,773.7C1213.3,773.3 1214.3,770.3 1214.8,767.9C1215.3,765.5 1216.3,758.8 1216.8,754.7C1217.3,750.6 1218.4,739.8 1218.9,734.8C1219.4,729.8 1220.5,719.2 1221.1,714.9C1221.7,710.5 1222.9,702.8 1223.5,700.0C1224.1,697.2 1225.2,693.6 1226.0,692.5C1226.8,691.4 1228.5,690.8 1229.6,690.8C1230.7,690.8 1233.6,692.0 1234.6,692.5C1235.6,693.0 1237.0,695.1 1237.9,695.0C1238.8,694.9 1241.1,691.7 1242.0,691.7C1242.9,691.7 1244.7,693.1 1245.4,695.0C1246.1,696.9 1247.1,703.1 1247.6,706.6C1248.2,710.1 1249.3,718.9 1249.8,723.2C1250.4,727.6 1251.4,737.3 1252.0,741.4C1252.5,745.5 1253.5,754.6 1254.1,756.3C1254.7,758.0 1255.9,755.7 1256.5,754.7C1257.1,753.7 1258.5,749.6 1259.1,748.0C1259.7,746.4 1260.7,743.1 1261.4,742.2C1262.1,741.3 1263.7,740.8 1264.4,741.1C1265.2,741.4 1266.8,742.8 1267.4,744.7C1268.0,746.6 1269.1,752.8 1269.6,756.3C1270.1,759.8 1271.1,768.3 1271.6,772.9C1272.1,777.5 1273.0,787.4 1273.5,792.8C1273.9,798.2 1274.8,810.2 1275.2,816.0C1275.6,821.8 1276.4,833.9 1276.9,839.3C1277.3,844.7 1278.1,854.5 1278.5,859.2C1278.9,863.9 1279.7,875.8 1280.2,876.6C1280.7,877.4 1281.8,869.2 1282.3,865.8C1282.8,862.4 1283.8,853.8 1284.3,849.2C1284.8,844.6 1285.7,834.3 1286.2,829.3C1286.6,824.3 1287.6,814.2 1288.1,809.4C1288.7,804.6 1289.7,794.9 1290.3,791.2C1290.9,787.5 1291.9,782.1 1292.6,779.6C1293.3,777.1 1295.1,771.7 1295.9,770.9C1296.7,770.1 1298.5,772.2 1299.3,772.9C1300.1,773.6 1301.9,776.4 1302.6,776.2C1303.3,776.0 1304.3,773.8 1304.9,771.3C1305.5,768.8 1306.6,760.2 1307.1,756.3C1307.6,752.4 1308.7,743.9 1309.2,739.8C1309.7,735.7 1310.7,726.3 1311.2,723.2C1311.8,720.1 1312.7,716.8 1313.3,714.9C1313.9,713.0 1314.9,709.7 1315.8,708.2C1316.7,706.8 1319.5,704.3 1320.8,703.3C1322.0,702.3 1324.3,701.1 1325.8,700.0C1327.2,698.9 1331.0,695.4 1332.4,694.1C1333.9,692.9 1336.3,691.5 1337.4,690.0C1338.5,688.5 1340.2,682.3 1341.2,682.0C1342.2,681.7 1344.5,685.7 1345.4,687.3C1346.3,688.9 1347.8,693.6 1348.7,694.8C1349.6,696.0 1351.6,696.9 1352.5,696.9C1353.4,696.9 1355.4,696.1 1356.2,694.8C1357.0,693.5 1357.6,688.6 1358.6,686.5C1359.6,684.4 1362.9,680.5 1364.5,678.2C1366.1,675.9 1369.6,670.2 1371.1,668.2C1372.5,666.2 1374.9,663.4 1376.1,662.4C1377.3,661.4 1379.5,660.9 1381.0,660.4C1382.5,659.9 1386.1,658.9 1387.7,658.8C1389.3,658.7 1392.0,658.7 1393.5,659.4C1395.0,660.1 1397.8,663.0 1399.3,664.1C1400.8,665.2 1404.5,666.9 1405.9,668.2C1407.4,669.6 1409.8,672.9 1410.9,674.9C1412.0,676.9 1413.9,682.1 1415.0,684.0C1416.1,685.9 1418.8,688.2 1420.0,689.8C1421.2,691.3 1423.8,694.6 1425.0,696.4C1426.2,698.2 1428.4,702.9 1429.7,704.4C1431.0,705.9 1434.1,708.4 1435.2,708.6C1436.3,708.8 1437.9,707.3 1438.6,705.8C1439.3,704.3 1440.3,699.5 1440.9,697.0C1441.5,694.4 1442.7,688.5 1443.3,685.6C1443.9,682.7 1445.1,676.7 1445.7,674.0C1446.3,671.3 1447.6,666.3 1448.2,664.1C1448.8,661.9 1449.8,658.4 1450.7,656.6C1451.6,654.8 1454.2,651.5 1455.7,650.0C1457.2,648.5 1460.6,645.6 1462.3,645.0C1464.0,644.4 1467.5,644.5 1468.9,645.0C1470.4,645.5 1472.7,647.8 1473.9,649.2C1475.2,650.7 1477.8,654.7 1478.9,656.6C1480.0,658.5 1482.1,662.0 1483.0,664.1C1483.9,666.2 1485.2,672.6 1486.3,673.7C1487.4,674.8 1490.8,673.2 1492.1,673.2C1493.3,673.2 1495.3,674.7 1496.3,674.0C1497.3,673.3 1499.2,669.7 1500.0,667.4C1500.8,665.1 1501.8,658.2 1502.5,655.8C1503.2,653.4 1504.8,649.8 1505.8,648.3C1506.8,646.8 1509.2,644.3 1510.8,643.8C1512.3,643.3 1516.4,644.0 1518.2,644.2C1520.0,644.5 1523.6,644.8 1524.9,645.8C1526.2,646.8 1528.1,650.8 1529.0,652.5C1529.9,654.2 1531.5,658.0 1532.3,659.1C1533.1,660.2 1535.0,661.1 1535.7,661.1C1536.4,661.1 1537.7,660.3 1538.1,659.1C1538.5,657.9 1538.4,653.1 1539.0,651.6C1539.6,650.1 1542.4,648.1 1543.1,646.7C1543.8,645.3 1543.8,641.1 1544.4,640.5C1545.0,639.9 1546.8,642.1 1548.1,641.7C1549.4,641.3 1553.0,638.1 1554.7,637.5C1556.4,636.9 1559.8,636.9 1561.4,636.7C1563.0,636.5 1566.0,635.9 1567.2,636.2C1568.4,636.5 1570.2,638.4 1571.3,638.9C1572.4,639.4 1575.2,639.4 1576.3,640.0C1577.4,640.6 1579.6,642.9 1580.4,643.8C1581.2,644.7 1582.3,647.4 1582.9,647.2C1583.5,647.0 1584.5,643.0 1585.4,642.5C1586.3,642.0 1589.3,642.9 1590.4,643.3C1591.5,643.7 1593.6,644.6 1594.5,645.5C1595.4,646.4 1597.0,649.3 1597.8,650.8C1598.6,652.3 1600.1,656.0 1601.2,657.4C1602.3,658.8 1605.4,662.3 1606.5,662.1C1607.6,661.9 1609.4,657.4 1610.3,655.8C1611.2,654.2 1612.8,650.7 1613.6,649.2C1614.4,647.8 1616.1,644.9 1616.9,644.2C1617.7,643.5 1619.5,644.3 1620.2,643.8C1620.9,643.3 1621.9,640.3 1622.7,640.0C1623.5,639.7 1626.0,642.0 1626.9,641.7C1627.8,641.4 1629.3,638.0 1630.2,637.5C1631.1,637.0 1633.4,637.2 1634.3,637.5C1635.2,637.8 1636.3,639.9 1637.6,640.0C1638.8,640.1 1643.0,638.0 1644.3,638.4C1645.5,638.8 1646.7,642.1 1647.6,643.3C1648.5,644.5 1650.8,647.4 1651.7,648.3C1652.6,649.2 1654.2,650.8 1655.1,650.8C1656.0,650.8 1658.3,648.6 1659.2,648.3C1660.1,648.0 1661.9,649.1 1662.5,648.3C1663.1,647.5 1663.1,642.6 1663.8,641.7C1664.5,640.8 1667.4,640.6 1668.3,640.9C1669.2,641.2 1670.1,643.5 1670.8,644.2C1671.5,644.9 1673.3,647.0 1674.1,646.7C1674.9,646.4 1676.8,641.8 1677.4,641.7C1678.0,641.6 1678.5,644.2 1679.1,645.8C1679.7,647.3 1681.6,652.2 1682.4,654.1C1683.2,656.0 1684.7,660.5 1685.4,661.1C1686.1,661.7 1687.5,660.4 1688.2,659.1C1688.9,657.8 1690.1,652.7 1690.7,650.8C1691.3,648.9 1692.6,645.4 1693.2,644.2C1693.8,643.0 1695.1,640.7 1695.7,640.9C1696.3,641.1 1697.5,645.1 1698.2,645.8C1698.9,646.5 1700.6,647.0 1701.5,646.7C1702.4,646.4 1704.6,643.8 1705.6,643.3C1706.6,642.8 1709.0,642.4 1709.8,642.9C1710.6,643.4 1711.7,645.7 1712.3,647.5C1712.9,649.3 1714.1,655.7 1714.8,657.4C1715.5,659.1 1717.4,661.6 1718.1,660.8C1718.8,660.0 1720.0,651.2 1720.6,650.8C1721.2,650.4 1722.5,657.1 1723.1,657.4C1723.7,657.7 1724.8,654.1 1725.5,653.3C1726.2,652.5 1727.8,650.3 1728.5,650.8C1729.2,651.3 1730.5,656.6 1730.8,657.4"/>
</g>
<g stroke="#000" stroke-width="4.5" fill="none" stroke-linecap="round">
<line x1="145" y1="63.4" x2="222" y2="63.4" stroke-dasharray="3.4 14.6" stroke-dashoffset="-0.3"/>
<path d="M145,63.4 V66.8"/>
<line x1="220.5" y1="63.4" x2="220.5" y2="905" stroke-dasharray="3.4 14.85" stroke-dashoffset="-14.6"/>
<line x1="145" y1="63.4" x2="145" y2="908.5" stroke-dasharray="3.4 14.93" stroke-dashoffset="-14.8"/>
<line x1="145" y1="908.5" x2="214" y2="908.5" stroke-dasharray="3.4 14.6" stroke-dashoffset="-9.1"/>
<line x1="1283.2" y1="66" x2="1283.2" y2="1114" stroke-dasharray="3.4 14.85" stroke-dashoffset="-2.35"/>
</g>
<g fill="#000">
<text transform="translate(260.0,1326.8) scale(0.936,1)" text-anchor="middle" font-size="55.8" font-family="Liberation Sans, Arial, Helvetica, sans-serif">3500</text>
<text transform="translate(495.0,1326.8) scale(0.936,1)" text-anchor="middle" font-size="55.8" font-family="Liberation Sans, Arial, Helvetica, sans-serif">3000</text>
<text transform="translate(616.0,1326.8) scale(0.936,1)" text-anchor="middle" font-size="55.8" font-family="Liberation Sans, Arial, Helvetica, sans-serif">1800</text>
<text transform="translate(801.9,1326.8) scale(0.936,1)" text-anchor="middle" font-size="55.8" font-family="Liberation Sans, Arial, Helvetica, sans-serif">1600</text>
<text transform="translate(987.8,1326.8) scale(0.936,1)" text-anchor="middle" font-size="55.8" font-family="Liberation Sans, Arial, Helvetica, sans-serif">1400</text>
<text transform="translate(1173.6,1326.8) scale(0.936,1)" text-anchor="middle" font-size="55.8" font-family="Liberation Sans, Arial, Helvetica, sans-serif">1200</text>
<text transform="translate(1359.5,1326.8) scale(0.936,1)" text-anchor="middle" font-size="55.8" font-family="Liberation Sans, Arial, Helvetica, sans-serif">1000</text>
<text transform="translate(1545.4,1326.8) scale(0.936,1)" text-anchor="middle" font-size="55.8" font-family="Liberation Sans, Arial, Helvetica, sans-serif">800</text>
<text transform="translate(1730.7,1326.8) scale(0.936,1)" text-anchor="middle" font-size="55.8" font-family="Liberation Sans, Arial, Helvetica, sans-serif">600</text>
</g>
<text transform="translate(642.0,1420.0) scale(0.9218,1)" font-size="84.3" font-weight="bold" font-family="Liberation Sans, Arial, Helvetica, sans-serif">Wavenumber (cm<tspan font-size="50" dy="-44.4">-1</tspan><tspan dy="44.4">)</tspan></text>
<text transform="translate(94.2,878.4) rotate(-90) scale(0.9700,1)" font-size="78.5" font-weight="bold" font-family="Liberation Sans, Arial, Helvetica, sans-serif">Transmittance</text>
<text transform="translate(294.80,147.7) scale(0.9316,1)" fill="#000000" font-size="44.33" font-weight="bold" font-family="Liberation Sans, Arial, Helvetica, sans-serif">PCL</text>
<text transform="translate(248.05,258.9) scale(0.9200,1)" fill="#ff0000" font-size="44.33" font-weight="bold" font-family="Liberation Sans, Arial, Helvetica, sans-serif">PCL/1αT</text>
<text transform="translate(248.05,365.9) scale(0.9200,1)" fill="#008000" font-size="44.33" font-weight="bold" font-family="Liberation Sans, Arial, Helvetica, sans-serif">PCL/5αT</text>
<text transform="translate(250.20,504.1) scale(0.9207,1)" fill="#0000ff" font-size="44.33" font-weight="bold" font-family="Liberation Sans, Arial, Helvetica, sans-serif">PCL/20αT</text>
<text transform="translate(305.05,724.8) scale(0.9318,1)" fill="#ff8000" font-size="44.33" font-weight="bold" font-family="Liberation Sans, Arial, Helvetica, sans-serif">αT</text>
</svg>
</body></html>
